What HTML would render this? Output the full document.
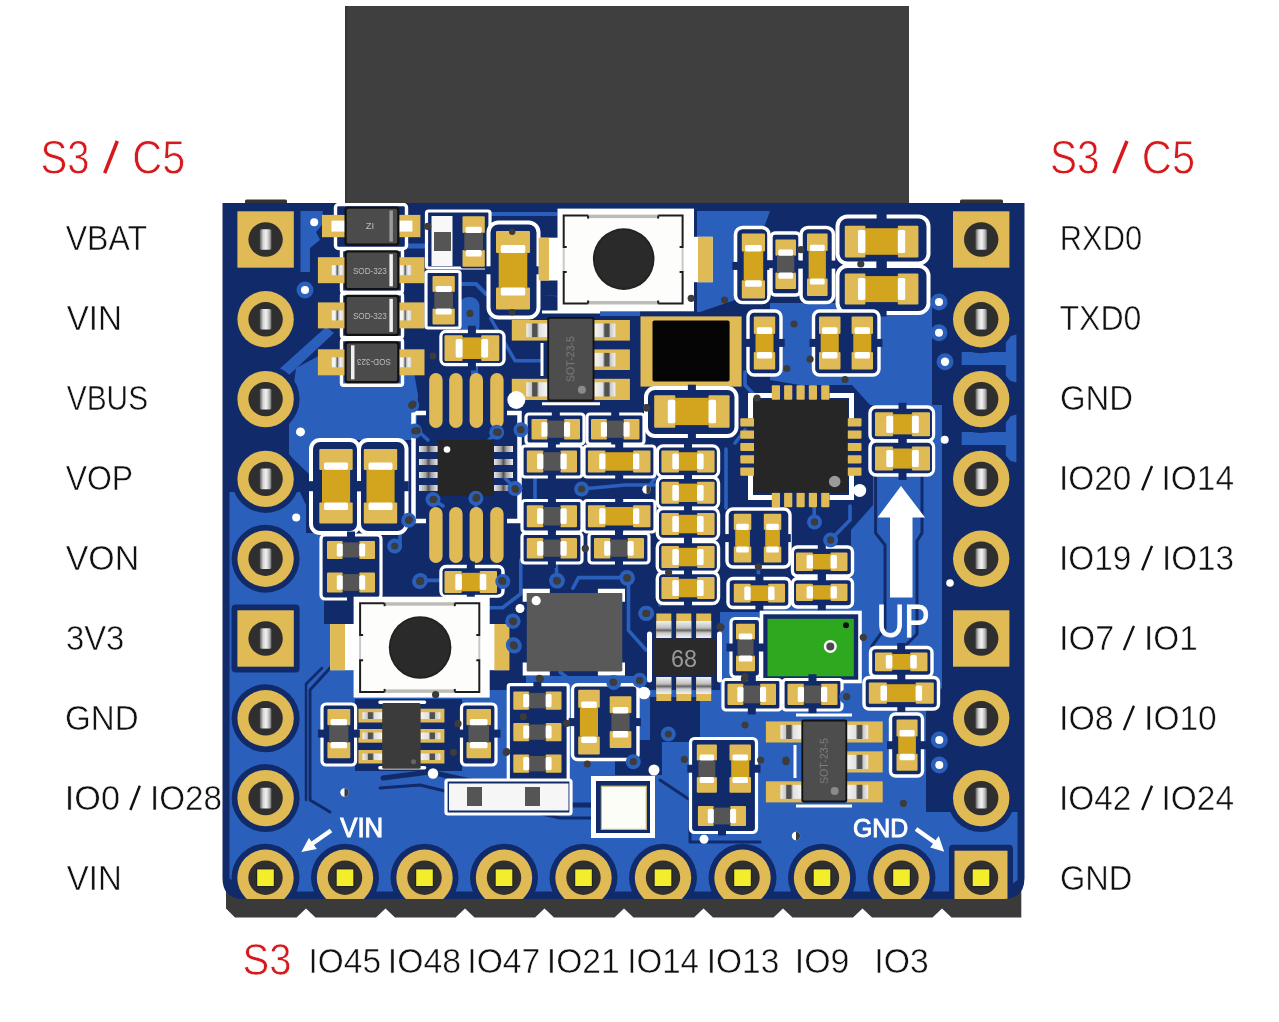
<!DOCTYPE html>
<html><head><meta charset="utf-8"><style>
html,body{margin:0;padding:0;background:#fff;}
svg{display:block;}
text{font-family:"Liberation Sans",sans-serif;}
.tx{opacity:0.999;}
text{opacity:0.999;}
</style></head><body>
<svg width="1279" height="1022" viewBox="0 0 1279 1022">
<defs>
<clipPath id="pcbclip"><path d="M222.5,203 L1024.5,203 L1024.5,878 Q1024.5,899 1003.5,899 L243.5,899 Q222.5,899 222.5,878 Z"/></clipPath>
<linearGradient id="slot" x1="0" x2="1" y1="0" y2="0">
<stop offset="0" stop-color="#5a5a5a"/><stop offset="0.3" stop-color="#d8d8d8"/><stop offset="0.55" stop-color="#f2f2f2"/><stop offset="0.8" stop-color="#bdbdbd"/><stop offset="1" stop-color="#6a6a6a"/>
</linearGradient>
<linearGradient id="sil" x1="0" x2="1" y1="0" y2="0"><stop offset="0" stop-color="#e8e8e8"/><stop offset="0.35" stop-color="#a0a0a0"/><stop offset="0.5" stop-color="#555"/><stop offset="0.65" stop-color="#a0a0a0"/><stop offset="1" stop-color="#f0f0f0"/></linearGradient>
<linearGradient id="sil2" x1="0" x2="1" y1="0" y2="0"><stop offset="0" stop-color="#f0f0f0"/><stop offset="0.25" stop-color="#c8c8c8"/><stop offset="0.3" stop-color="#505050"/><stop offset="0.5" stop-color="#505050"/><stop offset="0.6" stop-color="#e0e0e0"/><stop offset="1" stop-color="#f4f4f4"/></linearGradient>
<linearGradient id="sil2r" x1="1" x2="0" y1="0" y2="0"><stop offset="0" stop-color="#f0f0f0"/><stop offset="0.25" stop-color="#c8c8c8"/><stop offset="0.3" stop-color="#505050"/><stop offset="0.5" stop-color="#505050"/><stop offset="0.6" stop-color="#e0e0e0"/><stop offset="1" stop-color="#f4f4f4"/></linearGradient>
<linearGradient id="sil3" x1="0" x2="1" y1="0" y2="0"><stop offset="0" stop-color="#f4f4f4"/><stop offset="0.3" stop-color="#f4f4f4"/><stop offset="0.4" stop-color="#9a9a9a"/><stop offset="0.5" stop-color="#666"/><stop offset="0.6" stop-color="#c8c8c8"/><stop offset="0.75" stop-color="#f0f0f0"/><stop offset="1" stop-color="#d8d8d8"/></linearGradient>
<linearGradient id="silv" x1="0" x2="0" y1="0" y2="1"><stop offset="0" stop-color="#f2f2f2"/><stop offset="0.4" stop-color="#c0c0c0"/><stop offset="0.55" stop-color="#666"/><stop offset="0.7" stop-color="#c8c8c8"/><stop offset="1" stop-color="#f2f2f2"/></linearGradient>
</defs>
<rect width="1279" height="1022" fill="#fff"/>
<rect x="345.0" y="6.0" width="564.0" height="198.0" rx="0" fill="#3f3f3f" />
<rect x="345.0" y="6.0" width="2.0" height="198.0" rx="0" fill="#363636" />
<rect x="245.0" y="199.5" width="42.0" height="5.5" rx="1.5" fill="#333" />
<rect x="960.0" y="199.5" width="43.0" height="5.5" rx="1.5" fill="#333" />
<path d="M226,880 L1021.3,880 L1021.3,917.5 L951.5,917.5 L942,908.5 L932.5,917.5 L872.0,917.5 L862.5,908.5 L853.0,917.5 L792.5,917.5 L783,908.5 L773.5,917.5 L713.0,917.5 L703.5,908.5 L694.0,917.5 L633.5,917.5 L624,908.5 L614.5,917.5 L554.0,917.5 L544.5,908.5 L535.0,917.5 L474.5,917.5 L465,908.5 L455.5,917.5 L395.0,917.5 L385.5,908.5 L376.0,917.5 L315.5,917.5 L306,908.5 L296.5,917.5 L235,917.5 L226,908.5 Z" fill="#3a3a3a" stroke="none" stroke-width="0" />
<path d="M222.5,203 L1024.5,203 L1024.5,878 Q1024.5,899 1003.5,899 L243.5,899 Q222.5,899 222.5,878 Z" fill="#112a6a" stroke="none" stroke-width="0" />
<g clip-path="url(#pcbclip)" style="opacity:0.999">
<path d="M229.5,492.0 L300.0,492.0 L306.0,505.0 L306.0,533.0 L322.0,533.0 L322.0,596.0 L356.0,596.0 L356.0,690.0 L500.0,690.0 L500.0,676.0 L640.0,676.0 L640.0,690.0 L720.0,690.0 L720.0,612.0 L760.0,612.0 L760.0,600.0 L851.0,600.0 L851.0,530.0 L873.0,505.0 L873.0,405.0 L942.0,405.0 L942.0,688.0 L926.0,700.0 L926.0,812.0 L1017.5,812.0 L1017.5,880.0 L1003.0,891.5 L243.0,891.5 L229.5,878.0 Z" fill="#2a60bc" />
<path d="M289.0,420.0 L296.0,368.0 L330.0,350.0 L410.0,350.0 L418.0,395.0 L416.0,440.0 L313.0,440.0 L313.0,470.0 L309.0,474.0 L289.0,455.0 Z" fill="#2a60bc" />
<path d="M266.0,381.0 L326.0,327.0 L334.0,333.0 L274.0,389.0 Z" fill="#2a60bc" />
<path d="M300.5,211.0 L322.7,211.0 L322.7,224.0 L316.0,232.0 L320.0,240.0 L310.0,248.0 L310.0,272.0 L300.5,272.0 Z" fill="#2a60bc" />
<path d="M697.0,211.0 L770.0,211.0 L762.0,233.0 L735.0,233.0 L735.0,300.0 L700.0,312.0 L697.0,312.0 Z" fill="#2a60bc" />
<path d="M770.0,303.0 L932.0,303.0 L932.0,410.0 L870.0,405.0 L852.0,385.0 L800.0,385.0 L770.0,380.0 Z" fill="#2a60bc" />
<path d="M961.7,352.1 L1005.8,352.1 L1005.8,337.6 L1016.4,334.6 L1016.4,382.6 L1005.8,379.6 L1005.8,365.1 L961.7,365.1 Z" fill="#2a60bc" />
<path d="M961.7,432.0 L1005.8,432.0 L1005.8,417.5 L1016.4,414.5 L1016.4,462.5 L1005.8,459.5 L1005.8,445.0 L961.7,445.0 Z" fill="#2a60bc" />
<rect x="459" y="297" width="20.5" height="38" rx="9" fill="#2a60bc"/>
<path d="M490.7,318.5 L515.0,360.7 L541.0,360.7" fill="none" stroke="#2a60bc" stroke-width="3.5" stroke-linejoin="round" stroke-linecap="round"/>
<path d="M474.5,360.0 L474.5,378.0" fill="none" stroke="#2a60bc" stroke-width="7" stroke-linejoin="round" stroke-linecap="round"/>
<path d="M492.0,214.0 L556.0,214.0" fill="none" stroke="#2a60bc" stroke-width="4" stroke-linejoin="round" stroke-linecap="round"/>
<path d="M407.0,246.0 L426.0,246.0" fill="none" stroke="#2a60bc" stroke-width="5" stroke-linejoin="round" stroke-linecap="round"/>
<path d="M462.0,284.0 L476.0,284.0 L486.0,294.0" fill="none" stroke="#2a60bc" stroke-width="4" stroke-linejoin="round" stroke-linecap="round"/>
<path d="M540.0,295.0 L640.0,300.0 L640.0,316.0 L600.0,316.0 L600.0,300.0 Z" fill="#2a60bc" />
<path d="M650.0,697.0 L700.0,697.0 L700.0,742.0 L650.0,742.0 Z" fill="#112a6a" />
<path d="M615.0,740.0 L662.0,740.0 L662.0,775.0 L615.0,775.0 Z" fill="#112a6a" />
<path d="M487.0,596.0 L526.0,596.0 L526.0,690.0 L487.0,690.0 Z" fill="#112a6a" />
<path d="M324.0,598.0 L354.0,598.0 L354.0,624.0 L324.0,624.0 Z" fill="#112a6a" />
<path d="M355.0,699.0 L462.0,699.0 L462.0,771.0 L355.0,771.0 Z" fill="#112a6a" />
<path d="M343.0,668.0 L330.0,668.0 L310.0,690.0 L310.0,800.0 L330.0,812.0" fill="none" stroke="#112a6a" stroke-width="3" stroke-linejoin="round" stroke-linecap="round"/>
<path d="M322.0,668.0 L306.0,684.0 L306.0,800.0" fill="none" stroke="#112a6a" stroke-width="2.5" stroke-linejoin="round" stroke-linecap="round"/>
<path d="M383.0,778.0 L430.0,772.0 L520.0,792.0 L560.0,805.0 L600.0,805.0" fill="none" stroke="#112a6a" stroke-width="5" stroke-linejoin="round" stroke-linecap="round"/>
<path d="M380.0,788.0 L420.0,785.0 L515.0,808.0 L560.0,818.0 L592.0,818.0" fill="none" stroke="#112a6a" stroke-width="3" stroke-linejoin="round" stroke-linecap="round"/>
<path d="M660.0,780.0 L690.0,800.0 L690.0,842.0 L760.0,842.0" fill="none" stroke="#112a6a" stroke-width="3" stroke-linejoin="round" stroke-linecap="round"/>
<path d="M875.6,476.0 L875.6,533.0 L885.0,545.0 L885.0,628.0 L872.0,646.0" fill="none" stroke="#112a6a" stroke-width="3" stroke-linejoin="round" stroke-linecap="round"/>
<path d="M922.0,476.0 L922.0,533.0 L917.0,541.0 L917.0,634.0 L905.0,646.0" fill="none" stroke="#112a6a" stroke-width="3" stroke-linejoin="round" stroke-linecap="round"/>
<path d="M520.8,560.0 L520.8,593.8 L502.5,607.8 L488.0,607.8" fill="none" stroke="#2a60bc" stroke-width="3.6" stroke-linejoin="round" stroke-linecap="round"/>
<path d="M556.0,560.0 L557.1,581.1" fill="none" stroke="#2a60bc" stroke-width="3.6" stroke-linejoin="round" stroke-linecap="round"/>
<path d="M627.0,577.6 L578.5,577.6 L572.9,588.1" fill="none" stroke="#2a60bc" stroke-width="3.6" stroke-linejoin="round" stroke-linecap="round"/>
<path d="M628.5,577.6 L628.5,630.4 L646.0,650.0" fill="none" stroke="#2a60bc" stroke-width="3.6" stroke-linejoin="round" stroke-linecap="round"/>
<path d="M513.1,621.2 L500.0,630.0 L490.0,640.0" fill="none" stroke="#2a60bc" stroke-width="3.6" stroke-linejoin="round" stroke-linecap="round"/>
<path d="M560.0,672.0 L575.0,684.0 L612.0,684.0" fill="none" stroke="#2a60bc" stroke-width="3.6" stroke-linejoin="round" stroke-linecap="round"/>
<path d="M540.0,472.0 L535.0,478.0 L535.0,510.0" fill="none" stroke="#2a60bc" stroke-width="3.6" stroke-linejoin="round" stroke-linecap="round"/>
<path d="M581.6,489.0 L625.0,485.0 L654.0,485.0" fill="none" stroke="#2a60bc" stroke-width="3.6" stroke-linejoin="round" stroke-linecap="round"/>
<path d="M420.4,580.4 L500.0,580.4" fill="none" stroke="#2a60bc" stroke-width="3.6" stroke-linejoin="round" stroke-linecap="round"/>
<path d="M726.0,449.0 L726.0,508.0" fill="none" stroke="#2a60bc" stroke-width="3.6" stroke-linejoin="round" stroke-linecap="round"/>
<path d="M735.0,443.0 L745.0,430.0" fill="none" stroke="#2a60bc" stroke-width="3.6" stroke-linejoin="round" stroke-linecap="round"/>
<path d="M814.2,521.8 L814.2,506.0" fill="none" stroke="#2a60bc" stroke-width="3.6" stroke-linejoin="round" stroke-linecap="round"/>
<path d="M830.9,539.4 L850.0,520.0 L850.0,506.0" fill="none" stroke="#2a60bc" stroke-width="3.6" stroke-linejoin="round" stroke-linecap="round"/>
<path d="M412.0,405.0 L412.0,380.0" fill="none" stroke="#2a60bc" stroke-width="3.6" stroke-linejoin="round" stroke-linecap="round"/>
<path d="M417.0,430.0 L428.0,440.0" fill="none" stroke="#2a60bc" stroke-width="3.6" stroke-linejoin="round" stroke-linecap="round"/>
<path d="M497.0,432.0 L488.0,441.0" fill="none" stroke="#2a60bc" stroke-width="3.6" stroke-linejoin="round" stroke-linecap="round"/>
<path d="M521.0,430.0 L530.0,420.0 L540.0,420.0" fill="none" stroke="#2a60bc" stroke-width="3.6" stroke-linejoin="round" stroke-linecap="round"/>
<path d="M433.0,499.5 L443.0,506.0" fill="none" stroke="#2a60bc" stroke-width="3.6" stroke-linejoin="round" stroke-linecap="round"/>
<path d="M476.0,498.0 L476.0,507.0" fill="none" stroke="#2a60bc" stroke-width="3.6" stroke-linejoin="round" stroke-linecap="round"/>
<path d="M515.0,488.5 L505.0,478.0" fill="none" stroke="#2a60bc" stroke-width="3.6" stroke-linejoin="round" stroke-linecap="round"/>
<path d="M408.6,520.3 L400.0,530.0 L400.0,545.0" fill="none" stroke="#2a60bc" stroke-width="3.6" stroke-linejoin="round" stroke-linecap="round"/>
<path d="M646.9,489.5 L655.0,478.0" fill="none" stroke="#2a60bc" stroke-width="3.6" stroke-linejoin="round" stroke-linecap="round"/>
<path d="M757.0,398.0 L745.0,385.0 L745.0,372.0" fill="none" stroke="#2a60bc" stroke-width="3.6" stroke-linejoin="round" stroke-linecap="round"/>
<path d="M668.6,572.5 L660.0,590.0 L660.0,605.0" fill="none" stroke="#2a60bc" stroke-width="3.6" stroke-linejoin="round" stroke-linecap="round"/>
<path d="M758.4,566.8 L758.4,580.0" fill="none" stroke="#2a60bc" stroke-width="3.6" stroke-linejoin="round" stroke-linecap="round"/>
<rect x="231.6" y="205.5" width="68.0" height="68.0" rx="4" fill="#112a6a" />
<circle cx="265.6" cy="319.3" r="34.0" fill="#112a6a" />
<circle cx="265.6" cy="399.1" r="34.0" fill="#112a6a" />
<circle cx="265.6" cy="478.9" r="34.0" fill="#112a6a" />
<circle cx="265.6" cy="558.7" r="34.0" fill="#112a6a" />
<rect x="231.6" y="604.5" width="68.0" height="68.0" rx="4" fill="#112a6a" />
<circle cx="265.6" cy="718.3" r="34.0" fill="#112a6a" />
<circle cx="265.6" cy="798.1" r="34.0" fill="#112a6a" />
<rect x="947.2" y="205.5" width="68.0" height="68.0" rx="4" fill="#112a6a" />
<circle cx="981.2" cy="319.3" r="34.0" fill="#112a6a" />
<circle cx="981.2" cy="399.1" r="34.0" fill="#112a6a" />
<circle cx="981.2" cy="478.9" r="34.0" fill="#112a6a" />
<circle cx="981.2" cy="558.7" r="34.0" fill="#112a6a" />
<rect x="947.2" y="604.5" width="68.0" height="68.0" rx="4" fill="#112a6a" />
<circle cx="981.2" cy="718.3" r="34.0" fill="#112a6a" />
<circle cx="981.2" cy="798.1" r="34.0" fill="#112a6a" />
<circle cx="265.5" cy="877.7" r="34.0" fill="#112a6a" />
<circle cx="345.0" cy="877.7" r="34.0" fill="#112a6a" />
<circle cx="424.5" cy="877.7" r="34.0" fill="#112a6a" />
<circle cx="504.0" cy="877.7" r="34.0" fill="#112a6a" />
<circle cx="583.5" cy="877.7" r="34.0" fill="#112a6a" />
<circle cx="663.0" cy="877.7" r="34.0" fill="#112a6a" />
<circle cx="742.5" cy="877.7" r="34.0" fill="#112a6a" />
<circle cx="822.0" cy="877.7" r="34.0" fill="#112a6a" />
<circle cx="901.5" cy="877.7" r="34.0" fill="#112a6a" />
<rect x="949.0" y="844.7" width="64.0" height="54.3" rx="4" fill="#112a6a" />
<rect x="335.5" y="204.5" width="71.0" height="44.0" rx="3" fill="none" stroke="#ffffff" stroke-width="3.4" />
<rect x="341.5" y="249.5" width="61.0" height="42.8" rx="2" fill="none" stroke="#ffffff" stroke-width="3.4" />
<rect x="341.5" y="293.8" width="61.0" height="43.7" rx="2" fill="none" stroke="#ffffff" stroke-width="3.4" />
<rect x="341.5" y="339.5" width="61.0" height="45.8" rx="2" fill="none" stroke="#ffffff" stroke-width="3.4" />
<rect x="322.0" y="214.9" width="29.5" height="22.3" rx="0" fill="#e0ba54" />
<rect x="392.4" y="214.9" width="28.0" height="22.3" rx="0" fill="#e0ba54" />
<rect x="331.5" y="220.6" width="14.0" height="11.0" rx="0" fill="#ffffff" />
<rect x="398.4" y="220.6" width="14.0" height="11.0" rx="0" fill="#ffffff" />
<rect x="344.5" y="206.5" width="54.9" height="39.2" rx="3" fill="#111" />
<rect x="346.7" y="208.7" width="50.5" height="34.8" rx="1.5" fill="#4b4b4b" />
<rect x="389.4" y="210.5" width="3.5" height="31.2" rx="0" fill="#9a9a9a" />
<rect x="317.9" y="257.2" width="33.6" height="26.0" rx="0" fill="#e0ba54" />
<rect x="392.4" y="257.2" width="32.1" height="26.0" rx="0" fill="#e0ba54" />
<rect x="331.8" y="265.2" width="11.5" height="10" fill="url(#sil3)"/>
<rect x="399.7" y="265.2" width="11.5" height="10" fill="url(#sil3)"/>
<rect x="344.5" y="250.2" width="54.9" height="40.1" rx="3" fill="#111" />
<rect x="346.7" y="252.4" width="50.5" height="35.7" rx="1.5" fill="#4b4b4b" />
<rect x="389.4" y="254.2" width="3.5" height="32.1" rx="0" fill="#f0f0f0" />
<rect x="317.9" y="302.4" width="33.6" height="26.0" rx="0" fill="#e0ba54" />
<rect x="392.4" y="302.4" width="32.1" height="26.0" rx="0" fill="#e0ba54" />
<rect x="331.8" y="310.4" width="11.5" height="10" fill="url(#sil3)"/>
<rect x="399.7" y="310.4" width="11.5" height="10" fill="url(#sil3)"/>
<rect x="344.5" y="294.8" width="54.9" height="41.1" rx="3" fill="#111" />
<rect x="346.7" y="297.0" width="50.5" height="36.7" rx="1.5" fill="#4b4b4b" />
<rect x="389.4" y="298.8" width="3.5" height="33.1" rx="0" fill="#f0f0f0" />
<rect x="317.9" y="349.3" width="33.6" height="26.0" rx="0" fill="#e0ba54" />
<rect x="392.4" y="349.3" width="32.1" height="26.0" rx="0" fill="#e0ba54" />
<rect x="331.8" y="357.3" width="11.5" height="10" fill="url(#sil3)"/>
<rect x="399.7" y="357.3" width="11.5" height="10" fill="url(#sil3)"/>
<rect x="344.5" y="341.3" width="54.9" height="42.0" rx="3" fill="#111" />
<rect x="346.7" y="343.5" width="50.5" height="37.6" rx="1.5" fill="#4b4b4b" />
<rect x="351.0" y="345.3" width="3.5" height="34.0" rx="0" fill="#f0f0f0" />
<rect x="426.5" y="211.0" width="63.5" height="57.0" rx="2" fill="#112a6a" stroke="#ffffff" stroke-width="3.2" />
<rect x="431.5" y="216.0" width="21.0" height="50.0" rx="0" fill="#f8f8f8" />
<rect x="434.0" y="232.0" width="17.0" height="19.0" rx="0" fill="#555" />
<rect x="460.7" y="214.5" width="25.9" height="54.1" rx="2" fill="#112a6a" />
<rect x="462.5" y="216.3" width="22.3" height="16.7" rx="1" fill="#e0ba54" />
<rect x="462.5" y="250.1" width="22.3" height="16.7" rx="1" fill="#e0ba54" />
<rect x="464.3" y="232.5" width="18.7" height="18.2" rx="0" fill="#555555" />
<rect x="465.6" y="226.7" width="16.1" height="6.3" rx="1.5" fill="#ffffff" />
<rect x="465.6" y="250.1" width="16.1" height="6.3" rx="1.5" fill="#ffffff" />
<rect x="426.0" y="271.5" width="34.0" height="56.5" rx="2" fill="#112a6a" stroke="#ffffff" stroke-width="3.2" />
<rect x="430.7" y="274.2" width="25.9" height="52.1" rx="2" fill="#112a6a" />
<rect x="432.5" y="276.0" width="22.3" height="16.0" rx="1" fill="#e0ba54" />
<rect x="432.5" y="308.5" width="22.3" height="16.0" rx="1" fill="#e0ba54" />
<rect x="434.3" y="291.5" width="18.7" height="17.5" rx="0" fill="#555555" />
<rect x="435.6" y="285.9" width="16.1" height="6.1" rx="1.5" fill="#ffffff" />
<rect x="435.6" y="308.5" width="16.1" height="6.1" rx="1.5" fill="#ffffff" />
<rect x="488.5" y="222.5" width="50.0" height="95.0" rx="10" fill="#112a6a" stroke="#ffffff" stroke-width="4" />
<rect x="485.0" y="266.3" width="56.0" height="8.0" rx="0" fill="#112a6a" />
<rect x="494.2" y="229.2" width="37.6" height="82.2" rx="2" fill="#112a6a" />
<rect x="496.0" y="231.0" width="34.0" height="22.0" rx="1" fill="#e0ba54" />
<rect x="496.0" y="287.6" width="34.0" height="22.0" rx="1" fill="#e0ba54" />
<rect x="498.7" y="252.5" width="28.6" height="35.6" rx="0" fill="#d3a41e" />
<rect x="500.8" y="245.1" width="24.5" height="7.9" rx="1.5" fill="#ffffff" />
<rect x="500.8" y="287.6" width="24.5" height="7.9" rx="1.5" fill="#ffffff" />
<circle cx="512.2" cy="231.7" r="3.2" fill="#3a3a3a" />
<circle cx="512.2" cy="312.2" r="3.2" fill="#3a3a3a" />
<rect x="441.0" y="331.5" width="63.0" height="33.0" rx="5" fill="#112a6a" stroke="#ffffff" stroke-width="3.4" />
<rect x="467.9" y="325.8" width="8.0" height="44.7" rx="0" fill="#112a6a" />
<rect x="442.7" y="333.5" width="58.4" height="29.3" rx="2" fill="#112a6a" />
<rect x="444.5" y="335.3" width="18.1" height="25.7" rx="1" fill="#e0ba54" />
<rect x="481.2" y="335.3" width="18.1" height="25.7" rx="1" fill="#e0ba54" />
<rect x="462.1" y="337.4" width="19.6" height="21.6" rx="0" fill="#d3a41e" />
<rect x="455.7" y="338.9" width="6.9" height="18.5" rx="1.5" fill="#ffffff" />
<rect x="481.2" y="338.9" width="6.9" height="18.5" rx="1.5" fill="#ffffff" />
<rect x="557.5" y="208.6" width="136.5" height="102.7" rx="0" fill="#ffffff" />
<rect x="538.7" y="237.7" width="24.0" height="42.8" rx="0" fill="#ffffff" />
<rect x="538.7" y="237.7" width="10.3" height="42.8" rx="0" fill="#e0ba54" />
<rect x="683.6" y="236.8" width="29.1" height="45.4" rx="0" fill="#ffffff" />
<rect x="698.0" y="236.8" width="14.7" height="45.4" rx="0" fill="#e0ba54" />
<rect x="562.7" y="214.6" width="120.9" height="89.9" rx="0" fill="#fdfdfc" />
<rect x="588.1" y="214.6" width="70.1" height="3.5" rx="0" fill="#bdbdb8" />
<rect x="588.1" y="301.0" width="70.1" height="3.5" rx="0" fill="#bdbdb8" />
<rect x="562.7" y="247.0" width="2.0" height="25.2" rx="0" fill="#c8c8c8" />
<rect x="681.6" y="247.0" width="2.0" height="25.2" rx="0" fill="#c8c8c8" />
<path d="M588.1,215.6 L563.7,215.6 L563.7,247.0 L566.7,247.0" fill="none" stroke="#1e1e1e" stroke-width="2" />
<path d="M588.1,215.6 L588.1,218.6" fill="none" stroke="#1e1e1e" stroke-width="2" />
<path d="M658.2,215.6 L682.6,215.6 L682.6,247.0 L679.6,247.0" fill="none" stroke="#1e1e1e" stroke-width="2" />
<path d="M658.2,215.6 L658.2,218.6" fill="none" stroke="#1e1e1e" stroke-width="2" />
<path d="M588.1,303.5 L563.7,303.5 L563.7,272.1 L566.7,272.1" fill="none" stroke="#1e1e1e" stroke-width="2" />
<path d="M588.1,303.5 L588.1,300.5" fill="none" stroke="#1e1e1e" stroke-width="2" />
<path d="M658.2,303.5 L682.6,303.5 L682.6,272.1 L679.6,272.1" fill="none" stroke="#1e1e1e" stroke-width="2" />
<path d="M658.2,303.5 L658.2,300.5" fill="none" stroke="#1e1e1e" stroke-width="2" />
<circle cx="623.7" cy="259.1" r="30.8" fill="#222" />
<circle cx="623.7" cy="259.1" r="29.0" fill="#2a2a2a" />
<path d="M542,343 L542,376 M542,311.9 L600,311.9 M542,403.8 L600,403.8" fill="none" stroke="#ffffff" stroke-width="3" />
<rect x="511.8" y="320.0" width="37.5" height="20.6" rx="0" fill="#e0ba54" />
<rect x="526.3" y="323.5" width="21.0" height="13.6" fill="url(#sil2)"/>
<rect x="511.8" y="378.8" width="37.5" height="21.2" rx="0" fill="#e0ba54" />
<rect x="526.3" y="382.3" width="21.0" height="14.2" fill="url(#sil2)"/>
<rect x="592.4" y="320.0" width="37.5" height="20.6" rx="0" fill="#e0ba54" />
<rect x="594.4" y="323.5" width="21.0" height="13.6" fill="url(#sil2r)"/>
<rect x="592.4" y="349.4" width="37.5" height="20.6" rx="0" fill="#e0ba54" />
<rect x="594.4" y="352.9" width="21.0" height="13.6" fill="url(#sil2r)"/>
<rect x="592.4" y="378.8" width="37.5" height="21.2" rx="0" fill="#e0ba54" />
<rect x="594.4" y="382.3" width="21.0" height="14.2" fill="url(#sil2r)"/>
<rect x="547.3" y="316.9" width="47.1" height="84.4" rx="2" fill="#111" />
<rect x="549.1" y="318.7" width="43.5" height="80.8" rx="1" fill="#4d4d4d" />
<circle cx="581.9" cy="389.8" r="4.0" fill="#8a8a8a" />
<rect x="640.5" y="316.4" width="101.1" height="70.2" rx="0" fill="#e0ba54" />
<rect x="652.5" y="320.5" width="77.1" height="61.0" rx="2" fill="#050505" />
<rect x="646.0" y="388.0" width="90.5" height="48.0" rx="9" fill="#112a6a" stroke="#ffffff" stroke-width="4" />
<rect x="687.9" y="384.7" width="8.0" height="53.5" rx="0" fill="#112a6a" />
<rect x="652.4" y="393.4" width="79.0" height="36.1" rx="2" fill="#112a6a" />
<rect x="654.2" y="395.2" width="21.1" height="32.5" rx="1" fill="#e0ba54" />
<rect x="708.5" y="395.2" width="21.1" height="32.5" rx="1" fill="#e0ba54" />
<rect x="674.8" y="397.8" width="34.2" height="27.3" rx="0" fill="#d3a41e" />
<rect x="667.8" y="399.8" width="7.5" height="23.4" rx="1.5" fill="#ffffff" />
<rect x="708.5" y="399.8" width="7.5" height="23.4" rx="1.5" fill="#ffffff" />
<rect x="735.5" y="227.5" width="33.5" height="75.0" rx="7" fill="#112a6a" stroke="#ffffff" stroke-width="3.6" />
<rect x="732.3" y="261.9" width="42.2" height="8.0" rx="0" fill="#112a6a" />
<rect x="740.0" y="231.6" width="26.8" height="68.7" rx="2" fill="#112a6a" />
<rect x="741.8" y="233.4" width="23.2" height="18.2" rx="1" fill="#e0ba54" />
<rect x="741.8" y="280.3" width="23.2" height="18.2" rx="1" fill="#e0ba54" />
<rect x="743.7" y="251.1" width="19.5" height="29.6" rx="0" fill="#d3a41e" />
<rect x="745.0" y="245.1" width="16.7" height="6.5" rx="1.5" fill="#ffffff" />
<rect x="745.0" y="280.3" width="16.7" height="6.5" rx="1.5" fill="#ffffff" />
<rect x="771.0" y="233.0" width="29.0" height="62.0" rx="4" fill="#112a6a" stroke="#ffffff" stroke-width="3.4" />
<rect x="765.9" y="260.2" width="39.6" height="8.0" rx="0" fill="#112a6a" />
<rect x="773.6" y="237.6" width="24.2" height="53.2" rx="2" fill="#112a6a" />
<rect x="775.4" y="239.4" width="20.6" height="16.4" rx="1" fill="#e0ba54" />
<rect x="775.4" y="272.6" width="20.6" height="16.4" rx="1" fill="#e0ba54" />
<rect x="777.0" y="255.3" width="17.3" height="17.9" rx="0" fill="#555555" />
<rect x="778.3" y="249.6" width="14.8" height="6.2" rx="1.5" fill="#ffffff" />
<rect x="778.3" y="272.6" width="14.8" height="6.2" rx="1.5" fill="#ffffff" />
<rect x="801.0" y="227.5" width="32.5" height="75.0" rx="7" fill="#112a6a" stroke="#ffffff" stroke-width="3.6" />
<rect x="797.5" y="260.6" width="39.6" height="8.0" rx="0" fill="#112a6a" />
<rect x="805.2" y="231.6" width="24.2" height="66.1" rx="2" fill="#112a6a" />
<rect x="807.0" y="233.4" width="20.6" height="17.5" rx="1" fill="#e0ba54" />
<rect x="807.0" y="278.4" width="20.6" height="17.5" rx="1" fill="#e0ba54" />
<rect x="808.6" y="250.4" width="17.3" height="28.5" rx="0" fill="#d3a41e" />
<rect x="809.9" y="244.7" width="14.8" height="6.2" rx="1.5" fill="#ffffff" />
<rect x="809.9" y="278.4" width="14.8" height="6.2" rx="1.5" fill="#ffffff" />
<rect x="837.5" y="216.5" width="91.0" height="47.0" rx="10" fill="#112a6a" stroke="#ffffff" stroke-width="4" />
<rect x="837.5" y="266.0" width="91.0" height="47.0" rx="10" fill="#112a6a" stroke="#ffffff" stroke-width="4" />
<rect x="876.6" y="213.7" width="10.0" height="55.7" rx="0" fill="#112a6a" />
<rect x="843.0" y="223.9" width="77.2" height="35.3" rx="2" fill="#112a6a" />
<rect x="844.8" y="225.7" width="20.6" height="31.7" rx="1" fill="#e0ba54" />
<rect x="897.8" y="225.7" width="20.6" height="31.7" rx="1" fill="#e0ba54" />
<rect x="864.9" y="228.2" width="33.4" height="26.6" rx="0" fill="#d3a41e" />
<rect x="858.0" y="230.1" width="7.4" height="22.8" rx="1.5" fill="#ffffff" />
<rect x="897.8" y="230.1" width="7.4" height="22.8" rx="1.5" fill="#ffffff" />
<rect x="876.6" y="261.6" width="10.0" height="54.9" rx="0" fill="#112a6a" />
<rect x="843.0" y="271.8" width="77.2" height="34.5" rx="2" fill="#112a6a" />
<rect x="844.8" y="273.6" width="20.6" height="30.9" rx="1" fill="#e0ba54" />
<rect x="897.8" y="273.6" width="20.6" height="30.9" rx="1" fill="#e0ba54" />
<rect x="864.9" y="276.1" width="33.4" height="26.0" rx="0" fill="#d3a41e" />
<rect x="858.0" y="277.9" width="7.4" height="22.2" rx="1.5" fill="#ffffff" />
<rect x="897.8" y="277.9" width="7.4" height="22.2" rx="1.5" fill="#ffffff" />
<rect x="748.0" y="311.0" width="33.0" height="64.0" rx="6" fill="#112a6a" stroke="#ffffff" stroke-width="3.4" />
<rect x="744.3" y="338.9" width="40.4" height="8.0" rx="0" fill="#112a6a" />
<rect x="752.0" y="314.6" width="25.0" height="56.7" rx="2" fill="#112a6a" />
<rect x="753.8" y="316.4" width="21.4" height="17.5" rx="1" fill="#e0ba54" />
<rect x="753.8" y="352.0" width="21.4" height="17.5" rx="1" fill="#e0ba54" />
<rect x="755.5" y="333.4" width="18.0" height="19.1" rx="0" fill="#d3a41e" />
<rect x="756.8" y="327.3" width="15.4" height="6.6" rx="1.5" fill="#ffffff" />
<rect x="756.8" y="352.0" width="15.4" height="6.6" rx="1.5" fill="#ffffff" />
<rect x="813.5" y="311.0" width="65.5" height="64.0" rx="6" fill="#112a6a" stroke="#ffffff" stroke-width="3.4" />
<rect x="809.5" y="338.9" width="40.5" height="8.0" rx="0" fill="#112a6a" />
<rect x="817.2" y="314.6" width="25.1" height="56.7" rx="2" fill="#112a6a" />
<rect x="819.0" y="316.4" width="21.5" height="17.5" rx="1" fill="#e0ba54" />
<rect x="819.0" y="352.0" width="21.5" height="17.5" rx="1" fill="#e0ba54" />
<rect x="820.7" y="333.4" width="18.1" height="19.1" rx="0" fill="#d3a41e" />
<rect x="822.0" y="327.3" width="15.5" height="6.6" rx="1.5" fill="#ffffff" />
<rect x="822.0" y="352.0" width="15.5" height="6.6" rx="1.5" fill="#ffffff" />
<rect x="842.1" y="338.9" width="40.4" height="8.0" rx="0" fill="#112a6a" />
<rect x="849.8" y="314.6" width="25.0" height="56.7" rx="2" fill="#112a6a" />
<rect x="851.6" y="316.4" width="21.4" height="17.5" rx="1" fill="#e0ba54" />
<rect x="851.6" y="352.0" width="21.4" height="17.5" rx="1" fill="#e0ba54" />
<rect x="853.3" y="333.4" width="18.0" height="19.1" rx="0" fill="#d3a41e" />
<rect x="854.6" y="327.3" width="15.4" height="6.6" rx="1.5" fill="#ffffff" />
<rect x="854.6" y="352.0" width="15.4" height="6.6" rx="1.5" fill="#ffffff" />
<path d="M772.5,395.5 L750.5,395.5 L750.5,418.5" fill="none" stroke="#ffffff" stroke-width="5" />
<path d="M829.5,395.5 L851.5,395.5 L851.5,418.5" fill="none" stroke="#ffffff" stroke-width="5" />
<path d="M772.5,497.5 L750.5,497.5 L750.5,474.5" fill="none" stroke="#ffffff" stroke-width="5" />
<path d="M829.5,497.5 L851.5,497.5 L851.5,474.5" fill="none" stroke="#ffffff" stroke-width="5" />
<rect x="771.8" y="385.3" width="8.2" height="14.7" rx="1" fill="#e0ba54" />
<rect x="771.8" y="492.5" width="8.2" height="14.7" rx="1" fill="#e0ba54" />
<rect x="784.1" y="385.3" width="8.2" height="14.7" rx="1" fill="#e0ba54" />
<rect x="784.1" y="492.5" width="8.2" height="14.7" rx="1" fill="#e0ba54" />
<rect x="796.5" y="385.3" width="8.2" height="14.7" rx="1" fill="#e0ba54" />
<rect x="796.5" y="492.5" width="8.2" height="14.7" rx="1" fill="#e0ba54" />
<rect x="808.8" y="385.3" width="8.2" height="14.7" rx="1" fill="#e0ba54" />
<rect x="808.8" y="492.5" width="8.2" height="14.7" rx="1" fill="#e0ba54" />
<rect x="821.2" y="385.3" width="8.2" height="14.7" rx="1" fill="#e0ba54" />
<rect x="821.2" y="492.5" width="8.2" height="14.7" rx="1" fill="#e0ba54" />
<rect x="740.3" y="418.2" width="14.7" height="8.2" rx="1" fill="#e0ba54" />
<rect x="847.0" y="418.2" width="14.5" height="8.2" rx="1" fill="#e0ba54" />
<rect x="740.3" y="430.6" width="14.7" height="8.2" rx="1" fill="#e0ba54" />
<rect x="847.0" y="430.6" width="14.5" height="8.2" rx="1" fill="#e0ba54" />
<rect x="740.3" y="442.9" width="14.7" height="8.2" rx="1" fill="#e0ba54" />
<rect x="847.0" y="442.9" width="14.5" height="8.2" rx="1" fill="#e0ba54" />
<rect x="740.3" y="455.2" width="14.7" height="8.2" rx="1" fill="#e0ba54" />
<rect x="847.0" y="455.2" width="14.5" height="8.2" rx="1" fill="#e0ba54" />
<rect x="740.3" y="467.6" width="14.7" height="8.2" rx="1" fill="#e0ba54" />
<rect x="847.0" y="467.6" width="14.5" height="8.2" rx="1" fill="#e0ba54" />
<rect x="754.0" y="399.7" width="93.8" height="93.1" rx="1" fill="#262626" />
<circle cx="834.7" cy="481.5" r="5.8" fill="#9a9a9a" />
<circle cx="859.7" cy="490.4" r="6.5" fill="#ffffff" />
<rect x="870.0" y="407.0" width="63.5" height="34.0" rx="6" fill="#112a6a" stroke="#ffffff" stroke-width="3.4" />
<rect x="870.0" y="441.0" width="63.5" height="34.0" rx="6" fill="#112a6a" stroke="#ffffff" stroke-width="3.4" />
<rect x="898.5" y="402.8" width="8.0" height="43.0" rx="0" fill="#112a6a" />
<rect x="873.2" y="410.5" width="58.6" height="27.6" rx="2" fill="#112a6a" />
<rect x="875.0" y="412.3" width="18.1" height="24.0" rx="1" fill="#e0ba54" />
<rect x="911.9" y="412.3" width="18.1" height="24.0" rx="1" fill="#e0ba54" />
<rect x="892.6" y="414.2" width="19.7" height="20.2" rx="0" fill="#d3a41e" />
<rect x="886.3" y="415.7" width="6.9" height="17.3" rx="1.5" fill="#ffffff" />
<rect x="911.9" y="415.7" width="6.9" height="17.3" rx="1.5" fill="#ffffff" />
<rect x="898.5" y="437.1" width="8.0" height="42.9" rx="0" fill="#112a6a" />
<rect x="873.2" y="444.8" width="58.6" height="27.5" rx="2" fill="#112a6a" />
<rect x="875.0" y="446.6" width="18.1" height="23.9" rx="1" fill="#e0ba54" />
<rect x="911.9" y="446.6" width="18.1" height="23.9" rx="1" fill="#e0ba54" />
<rect x="892.6" y="448.5" width="19.7" height="20.1" rx="0" fill="#d3a41e" />
<rect x="886.3" y="449.9" width="6.9" height="17.2" rx="1.5" fill="#ffffff" />
<rect x="911.9" y="449.9" width="6.9" height="17.2" rx="1.5" fill="#ffffff" />
<rect x="311.0" y="440.0" width="48.0" height="93.0" rx="9" fill="#112a6a" stroke="#ffffff" stroke-width="4" />
<rect x="359.0" y="440.0" width="47.5" height="93.0" rx="9" fill="#112a6a" stroke="#ffffff" stroke-width="4" />
<rect x="307.8" y="481.2" width="56.4" height="10.0" rx="0" fill="#112a6a" />
<rect x="317.5" y="447.2" width="37.0" height="78.1" rx="2" fill="#112a6a" />
<rect x="319.3" y="449.0" width="33.4" height="20.9" rx="1" fill="#e0ba54" />
<rect x="319.3" y="502.6" width="33.4" height="20.9" rx="1" fill="#e0ba54" />
<rect x="322.0" y="469.4" width="28.1" height="33.8" rx="0" fill="#d3a41e" />
<rect x="324.0" y="462.4" width="24.0" height="7.4" rx="1.5" fill="#ffffff" />
<rect x="324.0" y="502.6" width="24.0" height="7.5" rx="1.5" fill="#ffffff" />
<rect x="352.3" y="481.2" width="56.4" height="10.0" rx="0" fill="#112a6a" />
<rect x="362.0" y="447.2" width="37.0" height="78.1" rx="2" fill="#112a6a" />
<rect x="363.8" y="449.0" width="33.4" height="20.9" rx="1" fill="#e0ba54" />
<rect x="363.8" y="502.6" width="33.4" height="20.9" rx="1" fill="#e0ba54" />
<rect x="366.5" y="469.4" width="28.1" height="33.8" rx="0" fill="#d3a41e" />
<rect x="368.5" y="462.4" width="24.0" height="7.4" rx="1.5" fill="#ffffff" />
<rect x="368.5" y="502.6" width="24.0" height="7.5" rx="1.5" fill="#ffffff" />
<path d="M426,413 L413.5,413 L413.5,521 L426,521" fill="none" stroke="#ffffff" stroke-width="4.5" />
<path d="M507,413 L519.5,413 L519.5,521 L507,521" fill="none" stroke="#ffffff" stroke-width="4.5" />
<rect x="429.2" y="373.0" width="13.4" height="55.0" rx="6.7" fill="#e0ba54" />
<rect x="429.2" y="507.0" width="13.4" height="56.0" rx="6.7" fill="#e0ba54" />
<rect x="449.2" y="373.0" width="13.4" height="55.0" rx="6.7" fill="#e0ba54" />
<rect x="449.2" y="507.0" width="13.4" height="56.0" rx="6.7" fill="#e0ba54" />
<rect x="469.6" y="373.0" width="13.4" height="55.0" rx="6.7" fill="#e0ba54" />
<rect x="469.6" y="507.0" width="13.4" height="56.0" rx="6.7" fill="#e0ba54" />
<rect x="490.2" y="373.0" width="13.4" height="55.0" rx="6.7" fill="#e0ba54" />
<rect x="490.2" y="507.0" width="13.4" height="56.0" rx="6.7" fill="#e0ba54" />
<rect x="419" y="446.0" width="19" height="6" fill="url(#sil)"/>
<rect x="494" y="446.0" width="19" height="6" fill="url(#sil)"/>
<rect x="419" y="459.0" width="19" height="6" fill="url(#sil)"/>
<rect x="494" y="459.0" width="19" height="6" fill="url(#sil)"/>
<rect x="419" y="472.0" width="19" height="6" fill="url(#sil)"/>
<rect x="494" y="472.0" width="19" height="6" fill="url(#sil)"/>
<rect x="419" y="485.0" width="19" height="6" fill="url(#sil)"/>
<rect x="494" y="485.0" width="19" height="6" fill="url(#sil)"/>
<rect x="437.6" y="439.5" width="56.4" height="56.3" rx="1" fill="#262626" />
<circle cx="447.0" cy="449.5" r="3.3" fill="#ffffff" />
<rect x="321.0" y="535.0" width="60.0" height="64.0" rx="4" fill="#112a6a" stroke="#ffffff" stroke-width="3.2" />
<rect x="347.0" y="531.5" width="8.0" height="37.0" rx="0" fill="#112a6a" />
<rect x="325.2" y="539.2" width="51.6" height="21.6" rx="2" fill="#112a6a" />
<rect x="327.0" y="541.0" width="15.8" height="18.0" rx="1" fill="#e0ba54" />
<rect x="359.2" y="541.0" width="15.8" height="18.0" rx="1" fill="#e0ba54" />
<rect x="342.3" y="542.4" width="17.3" height="15.1" rx="0" fill="#555555" />
<rect x="336.8" y="543.5" width="6.0" height="13.0" rx="1.5" fill="#ffffff" />
<rect x="359.2" y="543.5" width="6.0" height="13.0" rx="1.5" fill="#ffffff" />
<rect x="347.0" y="563.0" width="8.0" height="39.0" rx="0" fill="#112a6a" />
<rect x="325.2" y="570.7" width="51.6" height="23.6" rx="2" fill="#112a6a" />
<rect x="327.0" y="572.5" width="15.8" height="20.0" rx="1" fill="#e0ba54" />
<rect x="359.2" y="572.5" width="15.8" height="20.0" rx="1" fill="#e0ba54" />
<rect x="342.3" y="574.1" width="17.3" height="16.8" rx="0" fill="#555555" />
<rect x="336.8" y="575.3" width="6.0" height="14.4" rx="1.5" fill="#ffffff" />
<rect x="359.2" y="575.3" width="6.0" height="14.4" rx="1.5" fill="#ffffff" />
<rect x="441.0" y="566.5" width="62.0" height="29.5" rx="5" fill="#112a6a" stroke="#ffffff" stroke-width="3.4" />
<rect x="466.8" y="561.5" width="8.0" height="41.0" rx="0" fill="#112a6a" />
<rect x="442.7" y="569.2" width="56.1" height="25.6" rx="2" fill="#112a6a" />
<rect x="444.5" y="571.0" width="17.3" height="22.0" rx="1" fill="#e0ba54" />
<rect x="479.7" y="571.0" width="17.3" height="22.0" rx="1" fill="#e0ba54" />
<rect x="461.3" y="572.8" width="18.9" height="18.5" rx="0" fill="#d3a41e" />
<rect x="455.3" y="574.1" width="6.6" height="15.8" rx="1.5" fill="#ffffff" />
<rect x="479.7" y="574.1" width="6.6" height="15.8" rx="1.5" fill="#ffffff" />
<rect x="526.0" y="414.0" width="58.0" height="30.0" rx="3" fill="#112a6a" stroke="#ffffff" stroke-width="3.2" />
<rect x="551.8" y="409.5" width="8.0" height="39.5" rx="0" fill="#112a6a" />
<rect x="529.7" y="417.2" width="52.1" height="24.1" rx="2" fill="#112a6a" />
<rect x="531.5" y="419.0" width="16.0" height="20.5" rx="1" fill="#e0ba54" />
<rect x="564.0" y="419.0" width="16.0" height="20.5" rx="1" fill="#e0ba54" />
<rect x="547.0" y="420.6" width="17.5" height="17.2" rx="0" fill="#555555" />
<rect x="541.4" y="421.9" width="6.1" height="14.8" rx="1.5" fill="#ffffff" />
<rect x="564.0" y="421.9" width="6.1" height="14.8" rx="1.5" fill="#ffffff" />
<rect x="587.0" y="414.0" width="57.0" height="30.0" rx="3" fill="#112a6a" stroke="#ffffff" stroke-width="3.2" />
<rect x="611.2" y="409.5" width="8.0" height="39.5" rx="0" fill="#112a6a" />
<rect x="589.2" y="417.2" width="52.1" height="24.1" rx="2" fill="#112a6a" />
<rect x="591.0" y="419.0" width="16.0" height="20.5" rx="1" fill="#e0ba54" />
<rect x="623.5" y="419.0" width="16.0" height="20.5" rx="1" fill="#e0ba54" />
<rect x="606.5" y="420.6" width="17.5" height="17.2" rx="0" fill="#555555" />
<rect x="600.9" y="421.9" width="6.1" height="14.8" rx="1.5" fill="#ffffff" />
<rect x="623.5" y="421.9" width="6.1" height="14.8" rx="1.5" fill="#ffffff" />
<rect x="522.0" y="446.0" width="60.0" height="31.0" rx="3" fill="#112a6a" stroke="#ffffff" stroke-width="3.2" />
<rect x="547.9" y="440.9" width="8.0" height="41.0" rx="0" fill="#112a6a" />
<rect x="525.0" y="448.6" width="53.8" height="25.6" rx="2" fill="#112a6a" />
<rect x="526.8" y="450.4" width="16.6" height="22.0" rx="1" fill="#e0ba54" />
<rect x="560.4" y="450.4" width="16.6" height="22.0" rx="1" fill="#e0ba54" />
<rect x="542.9" y="452.2" width="18.1" height="18.5" rx="0" fill="#555555" />
<rect x="537.1" y="453.5" width="6.3" height="15.8" rx="1.5" fill="#ffffff" />
<rect x="560.4" y="453.5" width="6.3" height="15.8" rx="1.5" fill="#ffffff" />
<rect x="584.0" y="446.0" width="71.0" height="31.0" rx="3" fill="#112a6a" stroke="#ffffff" stroke-width="3.2" />
<rect x="615.2" y="440.9" width="8.0" height="41.0" rx="0" fill="#112a6a" />
<rect x="586.1" y="448.6" width="66.2" height="25.6" rx="2" fill="#112a6a" />
<rect x="587.9" y="450.4" width="17.5" height="22.0" rx="1" fill="#e0ba54" />
<rect x="633.0" y="450.4" width="17.5" height="22.0" rx="1" fill="#e0ba54" />
<rect x="604.9" y="452.2" width="28.5" height="18.5" rx="0" fill="#d3a41e" />
<rect x="599.2" y="453.5" width="6.3" height="15.8" rx="1.5" fill="#ffffff" />
<rect x="633.0" y="453.5" width="6.3" height="15.8" rx="1.5" fill="#ffffff" />
<rect x="522.0" y="500.5" width="60.0" height="31.5" rx="3" fill="#112a6a" stroke="#ffffff" stroke-width="3.2" />
<rect x="547.9" y="495.7" width="8.0" height="41.0" rx="0" fill="#112a6a" />
<rect x="525.0" y="503.4" width="53.8" height="25.6" rx="2" fill="#112a6a" />
<rect x="526.8" y="505.2" width="16.6" height="22.0" rx="1" fill="#e0ba54" />
<rect x="560.4" y="505.2" width="16.6" height="22.0" rx="1" fill="#e0ba54" />
<rect x="542.9" y="507.0" width="18.1" height="18.5" rx="0" fill="#555555" />
<rect x="537.1" y="508.3" width="6.3" height="15.8" rx="1.5" fill="#ffffff" />
<rect x="560.4" y="508.3" width="6.3" height="15.8" rx="1.5" fill="#ffffff" />
<rect x="584.0" y="500.5" width="71.0" height="31.5" rx="3" fill="#112a6a" stroke="#ffffff" stroke-width="3.2" />
<rect x="615.2" y="495.7" width="8.0" height="41.0" rx="0" fill="#112a6a" />
<rect x="586.1" y="503.4" width="66.2" height="25.6" rx="2" fill="#112a6a" />
<rect x="587.9" y="505.2" width="17.5" height="22.0" rx="1" fill="#e0ba54" />
<rect x="633.0" y="505.2" width="17.5" height="22.0" rx="1" fill="#e0ba54" />
<rect x="604.9" y="507.0" width="28.5" height="18.5" rx="0" fill="#d3a41e" />
<rect x="599.2" y="508.3" width="6.3" height="15.8" rx="1.5" fill="#ffffff" />
<rect x="633.0" y="508.3" width="6.3" height="15.8" rx="1.5" fill="#ffffff" />
<rect x="522.0" y="533.5" width="60.0" height="29.5" rx="3" fill="#112a6a" stroke="#ffffff" stroke-width="3.2" />
<rect x="547.9" y="528.5" width="8.0" height="39.5" rx="0" fill="#112a6a" />
<rect x="525.0" y="536.2" width="53.8" height="24.1" rx="2" fill="#112a6a" />
<rect x="526.8" y="538.0" width="16.6" height="20.5" rx="1" fill="#e0ba54" />
<rect x="560.4" y="538.0" width="16.6" height="20.5" rx="1" fill="#e0ba54" />
<rect x="542.9" y="539.6" width="18.1" height="17.2" rx="0" fill="#555555" />
<rect x="537.1" y="540.9" width="6.3" height="14.8" rx="1.5" fill="#ffffff" />
<rect x="560.4" y="540.9" width="6.3" height="14.8" rx="1.5" fill="#ffffff" />
<rect x="589.0" y="533.5" width="60.0" height="29.5" rx="3" fill="#112a6a" stroke="#ffffff" stroke-width="3.2" />
<rect x="615.0" y="528.5" width="8.0" height="39.5" rx="0" fill="#112a6a" />
<rect x="592.2" y="536.2" width="53.6" height="24.1" rx="2" fill="#112a6a" />
<rect x="594.0" y="538.0" width="16.5" height="20.5" rx="1" fill="#e0ba54" />
<rect x="627.5" y="538.0" width="16.5" height="20.5" rx="1" fill="#e0ba54" />
<rect x="610.0" y="539.6" width="18.0" height="17.2" rx="0" fill="#555555" />
<rect x="604.2" y="540.9" width="6.2" height="14.8" rx="1.5" fill="#ffffff" />
<rect x="627.5" y="540.9" width="6.2" height="14.8" rx="1.5" fill="#ffffff" />
<rect x="657.3" y="445.9" width="61.2" height="31.0" rx="6" fill="#112a6a" stroke="#ffffff" stroke-width="3.4" />
<rect x="684.0" y="443.4" width="8.0" height="36.0" rx="0" fill="#112a6a" />
<rect x="659.6" y="448.6" width="56.8" height="25.6" rx="2" fill="#112a6a" />
<rect x="661.4" y="450.4" width="17.6" height="22.0" rx="1" fill="#e0ba54" />
<rect x="697.0" y="450.4" width="17.6" height="22.0" rx="1" fill="#e0ba54" />
<rect x="678.5" y="452.2" width="19.1" height="18.5" rx="0" fill="#d3a41e" />
<rect x="672.3" y="453.5" width="6.6" height="15.8" rx="1.5" fill="#ffffff" />
<rect x="697.0" y="453.5" width="6.6" height="15.8" rx="1.5" fill="#ffffff" />
<rect x="657.3" y="477.3" width="61.2" height="30.9" rx="6" fill="#112a6a" stroke="#ffffff" stroke-width="3.4" />
<rect x="684.0" y="474.8" width="8.0" height="35.9" rx="0" fill="#112a6a" />
<rect x="659.6" y="480.0" width="56.8" height="25.5" rx="2" fill="#112a6a" />
<rect x="661.4" y="481.8" width="17.6" height="21.9" rx="1" fill="#e0ba54" />
<rect x="697.0" y="481.8" width="17.6" height="21.9" rx="1" fill="#e0ba54" />
<rect x="678.5" y="483.6" width="19.1" height="18.4" rx="0" fill="#d3a41e" />
<rect x="672.3" y="484.9" width="6.6" height="15.8" rx="1.5" fill="#ffffff" />
<rect x="697.0" y="484.9" width="6.6" height="15.8" rx="1.5" fill="#ffffff" />
<rect x="657.3" y="508.5" width="61.2" height="31.0" rx="6" fill="#112a6a" stroke="#ffffff" stroke-width="3.4" />
<rect x="684.0" y="506.0" width="8.0" height="36.0" rx="0" fill="#112a6a" />
<rect x="659.6" y="511.2" width="56.8" height="25.6" rx="2" fill="#112a6a" />
<rect x="661.4" y="513.0" width="17.6" height="22.0" rx="1" fill="#e0ba54" />
<rect x="697.0" y="513.0" width="17.6" height="22.0" rx="1" fill="#e0ba54" />
<rect x="678.5" y="514.8" width="19.1" height="18.5" rx="0" fill="#d3a41e" />
<rect x="672.3" y="516.1" width="6.6" height="15.8" rx="1.5" fill="#ffffff" />
<rect x="697.0" y="516.1" width="6.6" height="15.8" rx="1.5" fill="#ffffff" />
<rect x="657.3" y="541.5" width="61.2" height="31.0" rx="6" fill="#112a6a" stroke="#ffffff" stroke-width="3.4" />
<rect x="684.0" y="539.0" width="8.0" height="36.0" rx="0" fill="#112a6a" />
<rect x="659.6" y="544.2" width="56.8" height="25.6" rx="2" fill="#112a6a" />
<rect x="661.4" y="546.0" width="17.6" height="22.0" rx="1" fill="#e0ba54" />
<rect x="697.0" y="546.0" width="17.6" height="22.0" rx="1" fill="#e0ba54" />
<rect x="678.5" y="547.8" width="19.1" height="18.5" rx="0" fill="#d3a41e" />
<rect x="672.3" y="549.1" width="6.6" height="15.8" rx="1.5" fill="#ffffff" />
<rect x="697.0" y="549.1" width="6.6" height="15.8" rx="1.5" fill="#ffffff" />
<rect x="657.3" y="572.5" width="61.2" height="31.0" rx="6" fill="#112a6a" stroke="#ffffff" stroke-width="3.4" />
<rect x="684.0" y="570.0" width="8.0" height="36.0" rx="0" fill="#112a6a" />
<rect x="659.6" y="575.2" width="56.8" height="25.6" rx="2" fill="#112a6a" />
<rect x="661.4" y="577.0" width="17.6" height="22.0" rx="1" fill="#e0ba54" />
<rect x="697.0" y="577.0" width="17.6" height="22.0" rx="1" fill="#e0ba54" />
<rect x="678.5" y="578.8" width="19.1" height="18.5" rx="0" fill="#d3a41e" />
<rect x="672.3" y="580.1" width="6.6" height="15.8" rx="1.5" fill="#ffffff" />
<rect x="697.0" y="580.1" width="6.6" height="15.8" rx="1.5" fill="#ffffff" />
<rect x="727.0" y="509.0" width="63.0" height="58.0" rx="6" fill="#112a6a" stroke="#ffffff" stroke-width="3.4" />
<rect x="724.3" y="534.1" width="36.5" height="8.0" rx="0" fill="#112a6a" />
<rect x="732.0" y="512.0" width="21.1" height="52.3" rx="2" fill="#112a6a" />
<rect x="733.8" y="513.8" width="17.5" height="16.1" rx="1" fill="#e0ba54" />
<rect x="733.8" y="546.4" width="17.5" height="16.1" rx="1" fill="#e0ba54" />
<rect x="735.2" y="529.4" width="14.7" height="17.6" rx="0" fill="#d3a41e" />
<rect x="736.2" y="523.8" width="12.6" height="6.1" rx="1.5" fill="#ffffff" />
<rect x="736.2" y="546.4" width="12.6" height="6.1" rx="1.5" fill="#ffffff" />
<rect x="754.3" y="534.1" width="36.5" height="8.0" rx="0" fill="#112a6a" />
<rect x="762.0" y="512.0" width="21.1" height="52.3" rx="2" fill="#112a6a" />
<rect x="763.8" y="513.8" width="17.5" height="16.1" rx="1" fill="#e0ba54" />
<rect x="763.8" y="546.4" width="17.5" height="16.1" rx="1" fill="#e0ba54" />
<rect x="765.2" y="529.4" width="14.7" height="17.6" rx="0" fill="#d3a41e" />
<rect x="766.2" y="523.8" width="12.6" height="6.1" rx="1.5" fill="#ffffff" />
<rect x="766.2" y="546.4" width="12.6" height="6.1" rx="1.5" fill="#ffffff" />
<rect x="728.0" y="578.5" width="62.0" height="29.0" rx="5" fill="#112a6a" stroke="#ffffff" stroke-width="3.4" />
<rect x="755.4" y="574.3" width="8.0" height="37.7" rx="0" fill="#112a6a" />
<rect x="732.0" y="582.0" width="54.8" height="22.3" rx="2" fill="#112a6a" />
<rect x="733.8" y="583.8" width="16.9" height="18.7" rx="1" fill="#e0ba54" />
<rect x="768.1" y="583.8" width="16.9" height="18.7" rx="1" fill="#e0ba54" />
<rect x="750.2" y="585.3" width="18.4" height="15.7" rx="0" fill="#d3a41e" />
<rect x="744.3" y="586.4" width="6.4" height="13.5" rx="1.5" fill="#ffffff" />
<rect x="768.1" y="586.4" width="6.4" height="13.5" rx="1.5" fill="#ffffff" />
<rect x="792.5" y="547.0" width="60.0" height="29.0" rx="5" fill="#112a6a" stroke="#ffffff" stroke-width="3.4" />
<rect x="792.5" y="578.5" width="60.0" height="28.5" rx="5" fill="#112a6a" stroke="#ffffff" stroke-width="3.4" />
<rect x="817.8" y="543.0" width="8.0" height="37.5" rx="0" fill="#112a6a" />
<rect x="794.2" y="550.7" width="55.1" height="22.1" rx="2" fill="#112a6a" />
<rect x="796.0" y="552.5" width="17.0" height="18.5" rx="1" fill="#e0ba54" />
<rect x="830.5" y="552.5" width="17.0" height="18.5" rx="1" fill="#e0ba54" />
<rect x="812.5" y="554.0" width="18.5" height="15.5" rx="0" fill="#d3a41e" />
<rect x="806.6" y="555.1" width="6.4" height="13.3" rx="1.5" fill="#ffffff" />
<rect x="830.5" y="555.1" width="6.4" height="13.3" rx="1.5" fill="#ffffff" />
<rect x="817.8" y="574.3" width="8.0" height="36.2" rx="0" fill="#112a6a" />
<rect x="794.2" y="582.0" width="55.1" height="20.8" rx="2" fill="#112a6a" />
<rect x="796.0" y="583.8" width="17.0" height="17.2" rx="1" fill="#e0ba54" />
<rect x="830.5" y="583.8" width="17.0" height="17.2" rx="1" fill="#e0ba54" />
<rect x="812.5" y="585.2" width="18.5" height="14.4" rx="0" fill="#d3a41e" />
<rect x="806.6" y="586.2" width="6.4" height="12.4" rx="1.5" fill="#ffffff" />
<rect x="830.5" y="586.2" width="6.4" height="12.4" rx="1.5" fill="#ffffff" />
<rect x="353.6" y="596.7" width="136.1" height="100.9" rx="0" fill="#ffffff" />
<rect x="330.2" y="624.0" width="28.9" height="46.2" rx="0" fill="#ffffff" />
<rect x="330.2" y="624.0" width="14.8" height="46.2" rx="0" fill="#e0ba54" />
<rect x="480.3" y="624.0" width="28.9" height="46.2" rx="0" fill="#ffffff" />
<rect x="494.4" y="624.0" width="14.8" height="46.2" rx="0" fill="#e0ba54" />
<rect x="359.1" y="602.2" width="121.2" height="90.7" rx="0" fill="#fdfdfc" />
<rect x="384.6" y="602.2" width="70.3" height="3.5" rx="0" fill="#bdbdb8" />
<rect x="384.6" y="689.4" width="70.3" height="3.5" rx="0" fill="#bdbdb8" />
<rect x="359.1" y="634.9" width="2.0" height="25.4" rx="0" fill="#c8c8c8" />
<rect x="478.3" y="634.9" width="2.0" height="25.4" rx="0" fill="#c8c8c8" />
<path d="M384.6,603.2 L360.1,603.2 L360.1,634.9 L363.1,634.9" fill="none" stroke="#1e1e1e" stroke-width="2" />
<path d="M384.6,603.2 L384.6,606.2" fill="none" stroke="#1e1e1e" stroke-width="2" />
<path d="M454.8,603.2 L479.3,603.2 L479.3,634.9 L476.3,634.9" fill="none" stroke="#1e1e1e" stroke-width="2" />
<path d="M454.8,603.2 L454.8,606.2" fill="none" stroke="#1e1e1e" stroke-width="2" />
<path d="M384.6,691.9 L360.1,691.9 L360.1,660.2 L363.1,660.2" fill="none" stroke="#1e1e1e" stroke-width="2" />
<path d="M384.6,691.9 L384.6,688.9" fill="none" stroke="#1e1e1e" stroke-width="2" />
<path d="M454.8,691.9 L479.3,691.9 L479.3,660.2 L476.3,660.2" fill="none" stroke="#1e1e1e" stroke-width="2" />
<path d="M454.8,691.9 L454.8,688.9" fill="none" stroke="#1e1e1e" stroke-width="2" />
<circle cx="420.1" cy="647.5" r="31.3" fill="#222" />
<circle cx="420.1" cy="647.5" r="29.5" fill="#2a2a2a" />
<path d="M549.8,590.8 L524.8,590.8 L524.8,601.8" fill="none" stroke="#ffffff" stroke-width="4.2" />
<path d="M597.9,590.8 L622.9,590.8 L622.9,601.8" fill="none" stroke="#ffffff" stroke-width="4.2" />
<path d="M549.8,673.4 L524.8,673.4 L524.8,662.4" fill="none" stroke="#ffffff" stroke-width="4.2" />
<path d="M597.9,673.4 L622.9,673.4 L622.9,662.4" fill="none" stroke="#ffffff" stroke-width="4.2" />
<rect x="526.8" y="593.0" width="95.5" height="78.2" rx="1" fill="#595959" />
<circle cx="536.2" cy="600.7" r="4.6" fill="#ffffff" />
<rect x="656.3" y="613.5" width="15.0" height="24.5" rx="0" fill="#e0ba54" />
<rect x="656.3" y="621" width="15" height="17" fill="url(#silv)"/>
<rect x="656.3" y="677.0" width="15.0" height="24.0" rx="0" fill="#e0ba54" />
<rect x="656.3" y="677" width="15" height="17" fill="url(#silv)"/>
<rect x="676.3" y="613.5" width="15.0" height="24.5" rx="0" fill="#e0ba54" />
<rect x="676.3" y="621" width="15" height="17" fill="url(#silv)"/>
<rect x="676.3" y="677.0" width="15.0" height="24.0" rx="0" fill="#e0ba54" />
<rect x="676.3" y="677" width="15" height="17" fill="url(#silv)"/>
<rect x="696.2" y="613.5" width="15.0" height="24.5" rx="0" fill="#e0ba54" />
<rect x="696.2" y="621" width="15" height="17" fill="url(#silv)"/>
<rect x="696.2" y="677.0" width="15.0" height="24.0" rx="0" fill="#e0ba54" />
<rect x="696.2" y="677" width="15" height="17" fill="url(#silv)"/>
<rect x="653.0" y="638.4" width="62.0" height="37.8" rx="0" fill="#2a2a2a" />
<path d="M649.5,634 L649.5,680 M719.5,634 L719.5,680" fill="none" stroke="#ffffff" stroke-width="5" stroke-linecap="round"/>
<rect x="761.5" y="612.5" width="98.5" height="69.0" rx="0" fill="#112a6a" stroke="#ffffff" stroke-width="3.6" />
<rect x="767.5" y="618.8" width="86.3" height="57.5" rx="0" fill="#2ea81e" />
<circle cx="830.3" cy="646.4" r="6.5" fill="#ffffff" />
<circle cx="830.3" cy="646.4" r="4.0" fill="#4a4a4a" />
<circle cx="846.0" cy="625.2" r="3.0" fill="#111" />
<rect x="731.0" y="618.5" width="29.5" height="58.5" rx="4" fill="#112a6a" stroke="#ffffff" stroke-width="3.2" />
<rect x="726.5" y="643.5" width="38.0" height="8.0" rx="0" fill="#112a6a" />
<rect x="734.2" y="622.0" width="22.6" height="51.1" rx="2" fill="#112a6a" />
<rect x="736.0" y="623.8" width="19.0" height="15.7" rx="1" fill="#e0ba54" />
<rect x="736.0" y="655.6" width="19.0" height="15.7" rx="1" fill="#e0ba54" />
<rect x="737.5" y="639.0" width="16.0" height="17.2" rx="0" fill="#555555" />
<rect x="738.7" y="633.5" width="13.7" height="5.9" rx="1.5" fill="#ffffff" />
<rect x="738.7" y="655.6" width="13.7" height="5.9" rx="1.5" fill="#ffffff" />
<rect x="723.0" y="679.5" width="58.0" height="30.5" rx="3" fill="#112a6a" stroke="#ffffff" stroke-width="3.2" />
<rect x="747.8" y="674.3" width="8.0" height="40.2" rx="0" fill="#112a6a" />
<rect x="725.7" y="682.0" width="52.1" height="24.8" rx="2" fill="#112a6a" />
<rect x="727.5" y="683.8" width="16.0" height="21.2" rx="1" fill="#e0ba54" />
<rect x="760.0" y="683.8" width="16.0" height="21.2" rx="1" fill="#e0ba54" />
<rect x="743.0" y="685.5" width="17.5" height="17.8" rx="0" fill="#555555" />
<rect x="737.4" y="686.8" width="6.1" height="15.3" rx="1.5" fill="#ffffff" />
<rect x="760.0" y="686.8" width="6.1" height="15.3" rx="1.5" fill="#ffffff" />
<rect x="783.0" y="679.5" width="59.0" height="30.5" rx="3" fill="#112a6a" stroke="#ffffff" stroke-width="3.2" />
<rect x="808.5" y="674.3" width="8.0" height="40.2" rx="0" fill="#112a6a" />
<rect x="785.7" y="682.0" width="53.6" height="24.8" rx="2" fill="#112a6a" />
<rect x="787.5" y="683.8" width="16.5" height="21.2" rx="1" fill="#e0ba54" />
<rect x="821.0" y="683.8" width="16.5" height="21.2" rx="1" fill="#e0ba54" />
<rect x="803.5" y="685.5" width="18.0" height="17.8" rx="0" fill="#555555" />
<rect x="797.8" y="686.8" width="6.2" height="15.3" rx="1.5" fill="#ffffff" />
<rect x="821.0" y="686.8" width="6.2" height="15.3" rx="1.5" fill="#ffffff" />
<rect x="870.5" y="647.5" width="61.5" height="29.0" rx="5" fill="#112a6a" stroke="#ffffff" stroke-width="3.4" />
<rect x="897.2" y="643.0" width="8.0" height="37.8" rx="0" fill="#112a6a" />
<rect x="873.2" y="650.7" width="56.1" height="22.4" rx="2" fill="#112a6a" />
<rect x="875.0" y="652.5" width="17.3" height="18.8" rx="1" fill="#e0ba54" />
<rect x="910.2" y="652.5" width="17.3" height="18.8" rx="1" fill="#e0ba54" />
<rect x="891.8" y="654.0" width="18.8" height="15.8" rx="0" fill="#d3a41e" />
<rect x="885.8" y="655.1" width="6.6" height="13.5" rx="1.5" fill="#ffffff" />
<rect x="910.2" y="655.1" width="6.6" height="13.5" rx="1.5" fill="#ffffff" />
<rect x="864.0" y="677.5" width="74.5" height="31.5" rx="5" fill="#112a6a" stroke="#ffffff" stroke-width="3.4" />
<rect x="897.3" y="673.0" width="8.0" height="40.3" rx="0" fill="#112a6a" />
<rect x="867.0" y="680.7" width="68.6" height="24.9" rx="2" fill="#112a6a" />
<rect x="868.8" y="682.5" width="18.2" height="21.3" rx="1" fill="#e0ba54" />
<rect x="915.6" y="682.5" width="18.2" height="21.3" rx="1" fill="#e0ba54" />
<rect x="886.5" y="684.2" width="29.6" height="17.9" rx="0" fill="#d3a41e" />
<rect x="880.5" y="685.5" width="6.5" height="15.3" rx="1.5" fill="#ffffff" />
<rect x="915.6" y="685.5" width="6.5" height="15.3" rx="1.5" fill="#ffffff" />
<path d="M380,702.3 L424.5,702.3 M380,767.8 L424.5,767.8" fill="none" stroke="#ffffff" stroke-width="3.6" stroke-linecap="round"/>
<rect x="358.4" y="708.7" width="25.8" height="13.8" rx="0" fill="#e0ba54" />
<rect x="362.4" y="712.2" width="19.8" height="6.8" fill="url(#sil2)"/>
<rect x="358.4" y="729.0" width="25.8" height="13.7" rx="0" fill="#e0ba54" />
<rect x="362.4" y="732.5" width="19.8" height="6.7" fill="url(#sil2)"/>
<rect x="358.4" y="750.0" width="25.8" height="13.5" rx="0" fill="#e0ba54" />
<rect x="362.4" y="753.5" width="19.8" height="6.5" fill="url(#sil2)"/>
<rect x="418.6" y="708.7" width="25.8" height="13.8" rx="0" fill="#e0ba54" />
<rect x="420.6" y="712.2" width="19.8" height="6.8" fill="url(#sil2r)"/>
<rect x="418.6" y="729.0" width="25.8" height="13.7" rx="0" fill="#e0ba54" />
<rect x="420.6" y="732.5" width="19.8" height="6.7" fill="url(#sil2r)"/>
<rect x="418.6" y="750.0" width="25.8" height="13.5" rx="0" fill="#e0ba54" />
<rect x="420.6" y="753.5" width="19.8" height="6.5" fill="url(#sil2r)"/>
<rect x="382.2" y="703.0" width="38.4" height="65.7" rx="1.5" fill="#3b3b3b" />
<circle cx="413.6" cy="761.7" r="2.5" fill="#666" />
<rect x="322.0" y="704.0" width="33.6" height="61.0" rx="4" fill="#112a6a" stroke="#ffffff" stroke-width="3.2" />
<rect x="317.9" y="729.6" width="41.9" height="8.0" rx="0" fill="#112a6a" />
<rect x="325.6" y="707.2" width="26.5" height="52.9" rx="2" fill="#112a6a" />
<rect x="327.4" y="709.0" width="22.9" height="16.3" rx="1" fill="#e0ba54" />
<rect x="327.4" y="742.0" width="22.9" height="16.3" rx="1" fill="#e0ba54" />
<rect x="329.2" y="724.8" width="19.2" height="17.8" rx="0" fill="#555555" />
<rect x="330.6" y="719.1" width="16.5" height="6.2" rx="1.5" fill="#ffffff" />
<rect x="330.6" y="742.0" width="16.5" height="6.2" rx="1.5" fill="#ffffff" />
<rect x="461.5" y="704.0" width="34.5" height="61.0" rx="4" fill="#112a6a" stroke="#ffffff" stroke-width="3.2" />
<rect x="457.0" y="729.6" width="43.5" height="8.0" rx="0" fill="#112a6a" />
<rect x="464.7" y="707.2" width="28.1" height="52.9" rx="2" fill="#112a6a" />
<rect x="466.5" y="709.0" width="24.5" height="16.3" rx="1" fill="#e0ba54" />
<rect x="466.5" y="742.0" width="24.5" height="16.3" rx="1" fill="#e0ba54" />
<rect x="468.5" y="724.8" width="20.6" height="17.8" rx="0" fill="#555555" />
<rect x="469.9" y="719.1" width="17.6" height="6.2" rx="1.5" fill="#ffffff" />
<rect x="469.9" y="742.0" width="17.6" height="6.2" rx="1.5" fill="#ffffff" />
<rect x="508.3" y="684.7" width="59.9" height="128.0" rx="2" fill="#112a6a" stroke="#ffffff" stroke-width="3.2" />
<rect x="533.4" y="681.9" width="8.0" height="37.3" rx="0" fill="#112a6a" />
<rect x="511.5" y="689.6" width="51.8" height="21.9" rx="2" fill="#112a6a" />
<rect x="513.3" y="691.4" width="15.9" height="18.3" rx="1" fill="#e0ba54" />
<rect x="545.6" y="691.4" width="15.9" height="18.3" rx="1" fill="#e0ba54" />
<rect x="528.7" y="692.9" width="17.4" height="15.4" rx="0" fill="#555555" />
<rect x="523.2" y="694.0" width="6.0" height="13.2" rx="1.5" fill="#ffffff" />
<rect x="545.6" y="694.0" width="6.0" height="13.2" rx="1.5" fill="#ffffff" />
<rect x="533.4" y="713.5" width="8.0" height="37.2" rx="0" fill="#112a6a" />
<rect x="511.5" y="721.2" width="51.8" height="21.8" rx="2" fill="#112a6a" />
<rect x="513.3" y="723.0" width="15.9" height="18.2" rx="1" fill="#e0ba54" />
<rect x="545.6" y="723.0" width="15.9" height="18.2" rx="1" fill="#e0ba54" />
<rect x="528.7" y="724.5" width="17.4" height="15.3" rx="0" fill="#555555" />
<rect x="523.2" y="725.5" width="6.0" height="13.1" rx="1.5" fill="#ffffff" />
<rect x="545.6" y="725.5" width="6.0" height="13.1" rx="1.5" fill="#ffffff" />
<rect x="533.4" y="745.0" width="8.0" height="37.3" rx="0" fill="#112a6a" />
<rect x="511.5" y="752.7" width="51.8" height="21.9" rx="2" fill="#112a6a" />
<rect x="513.3" y="754.5" width="15.9" height="18.3" rx="1" fill="#e0ba54" />
<rect x="545.6" y="754.5" width="15.9" height="18.3" rx="1" fill="#e0ba54" />
<rect x="528.7" y="756.0" width="17.4" height="15.4" rx="0" fill="#555555" />
<rect x="523.2" y="757.1" width="6.0" height="13.2" rx="1.5" fill="#ffffff" />
<rect x="545.6" y="757.1" width="6.0" height="13.2" rx="1.5" fill="#ffffff" />
<rect x="446.0" y="780.0" width="125.0" height="34.0" rx="2" fill="#112a6a" stroke="#ffffff" stroke-width="3.2" />
<rect x="449.0" y="783.5" width="119.5" height="27.0" rx="0" fill="#f6f6f6" />
<rect x="467.0" y="787.0" width="15.0" height="19.0" rx="0" fill="#555" />
<rect x="525.0" y="787.0" width="15.0" height="19.0" rx="0" fill="#555" />
<rect x="572.5" y="684.7" width="65.5" height="74.8" rx="5" fill="#112a6a" stroke="#ffffff" stroke-width="3.4" />
<rect x="568.7" y="718.1" width="40.6" height="8.0" rx="0" fill="#112a6a" />
<rect x="576.4" y="687.9" width="25.2" height="68.4" rx="2" fill="#112a6a" />
<rect x="578.2" y="689.7" width="21.6" height="18.1" rx="1" fill="#e0ba54" />
<rect x="578.2" y="736.4" width="21.6" height="18.1" rx="1" fill="#e0ba54" />
<rect x="579.9" y="707.3" width="18.1" height="29.5" rx="0" fill="#d3a41e" />
<rect x="581.2" y="701.4" width="15.6" height="6.5" rx="1.5" fill="#ffffff" />
<rect x="581.2" y="736.4" width="15.6" height="6.5" rx="1.5" fill="#ffffff" />
<rect x="600.2" y="718.1" width="40.7" height="8.0" rx="0" fill="#112a6a" />
<rect x="607.9" y="694.5" width="25.3" height="55.2" rx="2" fill="#112a6a" />
<rect x="609.7" y="696.3" width="21.7" height="17.0" rx="1" fill="#e0ba54" />
<rect x="609.7" y="730.9" width="21.7" height="17.0" rx="1" fill="#e0ba54" />
<rect x="611.4" y="712.8" width="18.2" height="18.5" rx="0" fill="#555555" />
<rect x="612.7" y="706.9" width="15.6" height="6.5" rx="1.5" fill="#ffffff" />
<rect x="612.7" y="730.9" width="15.6" height="6.5" rx="1.5" fill="#ffffff" />
<rect x="593.5" y="778.5" width="59.0" height="57.0" rx="0" fill="#112a6a" stroke="#ffffff" stroke-width="5" />
<rect x="601.4" y="786.2" width="44.9" height="43.2" rx="0" fill="#fdfdf8" stroke="#c8b878" stroke-width="1.2"/>
<rect x="690.5" y="738.5" width="66.0" height="94.0" rx="4" fill="#112a6a" stroke="#ffffff" stroke-width="3.2" />
<rect x="687.3" y="764.7" width="39.1" height="8.0" rx="0" fill="#112a6a" />
<rect x="695.0" y="742.8" width="23.7" height="51.8" rx="2" fill="#112a6a" />
<rect x="696.8" y="744.6" width="20.1" height="15.9" rx="1" fill="#e0ba54" />
<rect x="696.8" y="776.9" width="20.1" height="15.9" rx="1" fill="#e0ba54" />
<rect x="698.4" y="760.0" width="16.9" height="17.4" rx="0" fill="#555555" />
<rect x="699.6" y="754.5" width="14.5" height="6.0" rx="1.5" fill="#ffffff" />
<rect x="699.6" y="776.9" width="14.5" height="6.0" rx="1.5" fill="#ffffff" />
<rect x="720.0" y="764.7" width="40.5" height="8.0" rx="0" fill="#112a6a" />
<rect x="727.7" y="742.8" width="25.1" height="51.8" rx="2" fill="#112a6a" />
<rect x="729.5" y="744.6" width="21.5" height="15.9" rx="1" fill="#e0ba54" />
<rect x="729.5" y="776.9" width="21.5" height="15.9" rx="1" fill="#e0ba54" />
<rect x="731.2" y="760.0" width="18.1" height="17.4" rx="0" fill="#d3a41e" />
<rect x="732.5" y="754.5" width="15.5" height="6.0" rx="1.5" fill="#ffffff" />
<rect x="732.5" y="776.9" width="15.5" height="6.0" rx="1.5" fill="#ffffff" />
<rect x="718.0" y="796.5" width="8.0" height="39.0" rx="0" fill="#112a6a" />
<rect x="696.1" y="804.2" width="51.7" height="23.6" rx="2" fill="#112a6a" />
<rect x="697.9" y="806.0" width="15.9" height="20.0" rx="1" fill="#e0ba54" />
<rect x="730.1" y="806.0" width="15.9" height="20.0" rx="1" fill="#e0ba54" />
<rect x="713.3" y="807.6" width="17.4" height="16.8" rx="0" fill="#555555" />
<rect x="707.8" y="808.8" width="6.0" height="14.4" rx="1.5" fill="#ffffff" />
<rect x="730.1" y="808.8" width="6.0" height="14.4" rx="1.5" fill="#ffffff" />
<path d="M796,715 L852,715 M796,806 L852,806 M795,745 L795,778" fill="none" stroke="#ffffff" stroke-width="3" />
<rect x="765.9" y="721.4" width="37.5" height="21.1" rx="0" fill="#e0ba54" />
<rect x="780.4" y="724.9" width="21.0" height="14.1" fill="url(#sil2)"/>
<rect x="765.9" y="781.3" width="37.5" height="21.1" rx="0" fill="#e0ba54" />
<rect x="780.4" y="784.8" width="21.0" height="14.1" fill="url(#sil2)"/>
<rect x="845.2" y="721.4" width="37.5" height="21.1" rx="0" fill="#e0ba54" />
<rect x="847.2" y="724.9" width="21.0" height="14.1" fill="url(#sil2r)"/>
<rect x="845.2" y="751.3" width="37.5" height="21.2" rx="0" fill="#e0ba54" />
<rect x="847.2" y="754.8" width="21.0" height="14.2" fill="url(#sil2r)"/>
<rect x="845.2" y="781.3" width="37.5" height="21.1" rx="0" fill="#e0ba54" />
<rect x="847.2" y="784.8" width="21.0" height="14.1" fill="url(#sil2r)"/>
<rect x="801.4" y="719.6" width="45.8" height="82.8" rx="2" fill="#111" />
<rect x="803.2" y="721.4" width="42.2" height="79.2" rx="1" fill="#4d4d4d" />
<circle cx="834.7" cy="790.9" r="4.0" fill="#8a8a8a" />
<rect x="890.5" y="714.0" width="32.0" height="62.0" rx="5" fill="#112a6a" stroke="#ffffff" stroke-width="3.4" />
<rect x="887.0" y="741.2" width="40.1" height="8.0" rx="0" fill="#112a6a" />
<rect x="894.7" y="717.8" width="24.7" height="54.7" rx="2" fill="#112a6a" />
<rect x="896.5" y="719.6" width="21.1" height="16.9" rx="1" fill="#e0ba54" />
<rect x="896.5" y="753.8" width="21.1" height="16.9" rx="1" fill="#e0ba54" />
<rect x="898.2" y="736.0" width="17.7" height="18.4" rx="0" fill="#d3a41e" />
<rect x="899.5" y="730.1" width="15.2" height="6.4" rx="1.5" fill="#ffffff" />
<rect x="899.5" y="753.8" width="15.2" height="6.4" rx="1.5" fill="#ffffff" />
<circle cx="814.5" cy="522.0" r="7.5" fill="#2a60bc" />
<circle cx="830.6" cy="540.0" r="7.5" fill="#2a60bc" />
<circle cx="411.7" cy="405.3" r="7.5" fill="#2a60bc" />
<circle cx="414.7" cy="431.0" r="7.5" fill="#2a60bc" />
<circle cx="496.7" cy="432.2" r="7.5" fill="#2a60bc" />
<circle cx="521.0" cy="429.7" r="7.5" fill="#2a60bc" />
<circle cx="433.0" cy="499.5" r="7.5" fill="#2a60bc" />
<circle cx="475.9" cy="498.3" r="7.5" fill="#2a60bc" />
<circle cx="515.0" cy="488.5" r="7.5" fill="#2a60bc" />
<circle cx="408.6" cy="520.3" r="7.5" fill="#2a60bc" />
<circle cx="419.6" cy="581.5" r="7.5" fill="#2a60bc" />
<circle cx="502.8" cy="581.5" r="7.5" fill="#2a60bc" />
<circle cx="557.1" cy="581.1" r="7.5" fill="#2a60bc" />
<circle cx="627.0" cy="577.6" r="7.5" fill="#2a60bc" />
<circle cx="513.1" cy="621.2" r="7.5" fill="#2a60bc" />
<circle cx="513.8" cy="645.1" r="7.5" fill="#2a60bc" />
<circle cx="646.0" cy="613.5" r="7.5" fill="#2a60bc" />
<circle cx="613.7" cy="682.4" r="7.5" fill="#2a60bc" />
<circle cx="639.7" cy="680.3" r="7.5" fill="#2a60bc" />
<circle cx="581.6" cy="489.0" r="7.5" fill="#2a60bc" />
<circle cx="420.4" cy="580.4" r="7.5" fill="#2a60bc" />
<circle cx="556.5" cy="580.4" r="7.5" fill="#2a60bc" />
<circle cx="627.0" cy="577.9" r="7.5" fill="#2a60bc" />
<circle cx="512.7" cy="621.0" r="7.5" fill="#2a60bc" />
<circle cx="514.3" cy="646.0" r="7.5" fill="#2a60bc" />
<circle cx="645.8" cy="613.3" r="7.5" fill="#2a60bc" />
<circle cx="557.3" cy="580.6" r="7.5" fill="#2a60bc" />
<circle cx="627.4" cy="578.3" r="7.5" fill="#2a60bc" />
<circle cx="646.7" cy="613.3" r="7.5" fill="#2a60bc" />
<circle cx="513.3" cy="644.8" r="7.5" fill="#2a60bc" />
<circle cx="633.3" cy="761.7" r="7.5" fill="#2a60bc" />
<circle cx="668.3" cy="734.0" r="7.5" fill="#2a60bc" />
<circle cx="846.7" cy="696.7" r="7.5" fill="#2a60bc" />
<circle cx="903.3" cy="803.3" r="7.5" fill="#2a60bc" />
<circle cx="394.7" cy="546.0" r="7.5" fill="#2a60bc" />
<circle cx="305.0" cy="290.0" r="8.5" fill="#2a60bc" />
<circle cx="939.0" cy="301.9" r="8.5" fill="#2a60bc" />
<circle cx="939.0" cy="332.7" r="8.5" fill="#2a60bc" />
<circle cx="945.0" cy="361.8" r="8.5" fill="#2a60bc" />
<circle cx="939.3" cy="740.0" r="8.5" fill="#2a60bc" />
<circle cx="939.3" cy="765.0" r="8.5" fill="#2a60bc" />
<circle cx="758.4" cy="566.8" r="3.6" fill="#3c3c3c" />
<circle cx="427.7" cy="226.4" r="3.6" fill="#3c3c3c" />
<circle cx="470.0" cy="313.4" r="3.6" fill="#3c3c3c" />
<circle cx="433.0" cy="356.0" r="3.6" fill="#3c3c3c" />
<circle cx="413.0" cy="404.2" r="3.6" fill="#3c3c3c" />
<circle cx="417.2" cy="430.6" r="3.6" fill="#3c3c3c" />
<circle cx="498.2" cy="432.4" r="3.6" fill="#3c3c3c" />
<circle cx="433.7" cy="499.3" r="3.6" fill="#3c3c3c" />
<circle cx="409.4" cy="519.7" r="3.6" fill="#3c3c3c" />
<circle cx="691.2" cy="298.3" r="3.6" fill="#3c3c3c" />
<circle cx="724.5" cy="300.0" r="3.6" fill="#3c3c3c" />
<circle cx="800.8" cy="249.7" r="3.6" fill="#3c3c3c" />
<circle cx="860.8" cy="264.0" r="3.6" fill="#3c3c3c" />
<circle cx="794.0" cy="324.0" r="3.6" fill="#3c3c3c" />
<circle cx="810.0" cy="359.2" r="3.6" fill="#3c3c3c" />
<circle cx="786.8" cy="368.5" r="3.6" fill="#3c3c3c" />
<circle cx="845.0" cy="379.5" r="3.6" fill="#3c3c3c" />
<circle cx="646.7" cy="407.9" r="3.6" fill="#3c3c3c" />
<circle cx="814.5" cy="522.0" r="3.6" fill="#3c3c3c" />
<circle cx="830.6" cy="540.0" r="3.6" fill="#3c3c3c" />
<circle cx="520.5" cy="429.5" r="3.6" fill="#3c3c3c" />
<circle cx="515.8" cy="489.6" r="3.6" fill="#3c3c3c" />
<circle cx="476.7" cy="497.4" r="3.6" fill="#3c3c3c" />
<circle cx="585.3" cy="548.4" r="3.6" fill="#3c3c3c" />
<circle cx="501.8" cy="580.4" r="3.6" fill="#3c3c3c" />
<circle cx="668.6" cy="572.5" r="3.6" fill="#3c3c3c" />
<circle cx="540.3" cy="679.0" r="3.6" fill="#3c3c3c" />
<circle cx="612.9" cy="682.0" r="3.6" fill="#3c3c3c" />
<circle cx="639.5" cy="680.6" r="3.6" fill="#3c3c3c" />
<circle cx="721.0" cy="627.3" r="3.6" fill="#3c3c3c" />
<circle cx="744.4" cy="679.0" r="3.6" fill="#3c3c3c" />
<circle cx="646.4" cy="407.6" r="3.6" fill="#3c3c3c" />
<circle cx="513.3" cy="621.7" r="3.6" fill="#3c3c3c" />
<circle cx="539.3" cy="678.3" r="3.6" fill="#3c3c3c" />
<circle cx="720.0" cy="626.7" r="3.6" fill="#3c3c3c" />
<circle cx="745.0" cy="676.7" r="3.6" fill="#3c3c3c" />
<circle cx="523.3" cy="716.7" r="3.6" fill="#3c3c3c" />
<circle cx="566.7" cy="723.3" r="3.6" fill="#3c3c3c" />
<circle cx="506.7" cy="751.7" r="3.6" fill="#3c3c3c" />
<circle cx="587.3" cy="764.0" r="3.6" fill="#3c3c3c" />
<circle cx="684.3" cy="759.3" r="3.6" fill="#3c3c3c" />
<circle cx="745.0" cy="725.0" r="3.6" fill="#3c3c3c" />
<circle cx="760.7" cy="760.0" r="3.6" fill="#3c3c3c" />
<circle cx="786.0" cy="760.0" r="3.6" fill="#3c3c3c" />
<circle cx="863.3" cy="637.3" r="3.6" fill="#3c3c3c" />
<circle cx="786.0" cy="761.7" r="3.6" fill="#3c3c3c" />
<circle cx="420.7" cy="581.3" r="3.6" fill="#3c3c3c" />
<circle cx="435.6" cy="694.7" r="3.6" fill="#3c3c3c" />
<circle cx="458.0" cy="723.7" r="3.6" fill="#3c3c3c" />
<circle cx="453.5" cy="752.3" r="3.6" fill="#3c3c3c" />
<circle cx="506.2" cy="752.3" r="3.6" fill="#3c3c3c" />
<circle cx="757.0" cy="398.0" r="3.6" fill="#3c3c3c" />
<circle cx="814.5" cy="522.0" r="3.6" fill="#3c3c3c" />
<circle cx="830.6" cy="540.0" r="3.6" fill="#3c3c3c" />
<circle cx="411.7" cy="405.3" r="3.6" fill="#3c3c3c" />
<circle cx="414.7" cy="431.0" r="3.6" fill="#3c3c3c" />
<circle cx="496.7" cy="432.2" r="3.6" fill="#3c3c3c" />
<circle cx="521.0" cy="429.7" r="3.6" fill="#3c3c3c" />
<circle cx="433.0" cy="499.5" r="3.6" fill="#3c3c3c" />
<circle cx="475.9" cy="498.3" r="3.6" fill="#3c3c3c" />
<circle cx="515.0" cy="488.5" r="3.6" fill="#3c3c3c" />
<circle cx="408.6" cy="520.3" r="3.6" fill="#3c3c3c" />
<circle cx="419.6" cy="581.5" r="3.6" fill="#3c3c3c" />
<circle cx="502.8" cy="581.5" r="3.6" fill="#3c3c3c" />
<circle cx="557.1" cy="581.1" r="3.6" fill="#3c3c3c" />
<circle cx="627.0" cy="577.6" r="3.6" fill="#3c3c3c" />
<circle cx="513.1" cy="621.2" r="3.6" fill="#3c3c3c" />
<circle cx="513.8" cy="645.1" r="3.6" fill="#3c3c3c" />
<circle cx="646.0" cy="613.5" r="3.6" fill="#3c3c3c" />
<circle cx="613.7" cy="682.4" r="3.6" fill="#3c3c3c" />
<circle cx="639.7" cy="680.3" r="3.6" fill="#3c3c3c" />
<circle cx="581.6" cy="489.0" r="3.6" fill="#3c3c3c" />
<circle cx="420.4" cy="580.4" r="3.6" fill="#3c3c3c" />
<circle cx="556.5" cy="580.4" r="3.6" fill="#3c3c3c" />
<circle cx="627.0" cy="577.9" r="3.6" fill="#3c3c3c" />
<circle cx="512.7" cy="621.0" r="3.6" fill="#3c3c3c" />
<circle cx="514.3" cy="646.0" r="3.6" fill="#3c3c3c" />
<circle cx="645.8" cy="613.3" r="3.6" fill="#3c3c3c" />
<circle cx="557.3" cy="580.6" r="3.6" fill="#3c3c3c" />
<circle cx="627.4" cy="578.3" r="3.6" fill="#3c3c3c" />
<circle cx="646.7" cy="613.3" r="3.6" fill="#3c3c3c" />
<circle cx="513.3" cy="644.8" r="3.6" fill="#3c3c3c" />
<circle cx="633.3" cy="761.7" r="3.6" fill="#3c3c3c" />
<circle cx="668.3" cy="734.0" r="3.6" fill="#3c3c3c" />
<circle cx="846.7" cy="696.7" r="3.6" fill="#3c3c3c" />
<circle cx="903.3" cy="803.3" r="3.6" fill="#3c3c3c" />
<circle cx="394.7" cy="546.0" r="3.6" fill="#3c3c3c" />
<circle cx="314.2" cy="222.3" r="4.0" fill="#ffffff" />
<circle cx="300.5" cy="431.9" r="4.5" fill="#ffffff" />
<circle cx="296.2" cy="517.5" r="4.0" fill="#ffffff" />
<circle cx="944.7" cy="439.7" r="4.0" fill="#ffffff" />
<circle cx="516.3" cy="400.0" r="9.0" fill="#ffffff" />
<circle cx="433.0" cy="773.5" r="5.2" fill="#ffffff" />
<circle cx="520.0" cy="608.5" r="4.5" fill="#ffffff" />
<circle cx="644.0" cy="693.0" r="6.3" fill="#ffffff" />
<circle cx="654.0" cy="770.0" r="5.5" fill="#ffffff" />
<circle cx="704.0" cy="839.3" r="4.5" fill="#ffffff" />
<circle cx="950.0" cy="583.0" r="3.8" fill="#ffffff" />
<circle cx="305.0" cy="290.0" r="4.0" fill="#ffffff" />
<circle cx="939.0" cy="301.9" r="4.0" fill="#ffffff" />
<circle cx="939.0" cy="332.7" r="4.0" fill="#ffffff" />
<circle cx="945.0" cy="361.8" r="4.2" fill="#ffffff" />
<circle cx="939.3" cy="740.0" r="4.0" fill="#ffffff" />
<circle cx="939.3" cy="765.0" r="4.0" fill="#ffffff" />
<circle cx="344.5" cy="792.5" r="4.2" fill="#ffffff" />
<path d="M344.5,788.3 A4.2,4.2 0 0 1 344.5,796.7 Z" fill="#3c3c3c"/>
<circle cx="796.0" cy="836.0" r="4.2" fill="#ffffff" />
<path d="M796,831.8 A4.2,4.2 0 0 1 796,840.2 Z" fill="#3c3c3c"/>
<circle cx="646.5" cy="489.5" r="4.2" fill="#ffffff" />
<path d="M646.5,485.3 A4.2,4.2 0 0 1 646.5,493.7 Z" fill="#3c3c3c"/>
<rect x="237.4" y="211.3" width="56.4" height="56.4" rx="0" fill="#e0ba54" />
<circle cx="265.6" cy="239.5" r="17.2" fill="#2f2f2f" />
<rect x="259.8" y="229.2" width="11.6" height="20.6" rx="1.5" fill="url(#slot)"/>
<circle cx="265.6" cy="319.3" r="28.2" fill="#e0ba54" />
<circle cx="265.6" cy="319.3" r="17.2" fill="#2f2f2f" />
<rect x="259.8" y="309.0" width="11.6" height="20.6" rx="1.5" fill="url(#slot)"/>
<circle cx="265.6" cy="399.1" r="28.2" fill="#e0ba54" />
<circle cx="265.6" cy="399.1" r="17.2" fill="#2f2f2f" />
<rect x="259.8" y="388.8" width="11.6" height="20.6" rx="1.5" fill="url(#slot)"/>
<circle cx="265.6" cy="478.9" r="28.2" fill="#e0ba54" />
<circle cx="265.6" cy="478.9" r="17.2" fill="#2f2f2f" />
<rect x="259.8" y="468.6" width="11.6" height="20.6" rx="1.5" fill="url(#slot)"/>
<circle cx="265.6" cy="558.7" r="28.2" fill="#e0ba54" />
<circle cx="265.6" cy="558.7" r="17.2" fill="#2f2f2f" />
<rect x="259.8" y="548.4" width="11.6" height="20.6" rx="1.5" fill="url(#slot)"/>
<rect x="237.4" y="610.3" width="56.4" height="56.4" rx="0" fill="#e0ba54" />
<circle cx="265.6" cy="638.5" r="17.2" fill="#2f2f2f" />
<rect x="259.8" y="628.2" width="11.6" height="20.6" rx="1.5" fill="url(#slot)"/>
<circle cx="265.6" cy="718.3" r="28.2" fill="#e0ba54" />
<circle cx="265.6" cy="718.3" r="17.2" fill="#2f2f2f" />
<rect x="259.8" y="708.0" width="11.6" height="20.6" rx="1.5" fill="url(#slot)"/>
<circle cx="265.6" cy="798.1" r="28.2" fill="#e0ba54" />
<circle cx="265.6" cy="798.1" r="17.2" fill="#2f2f2f" />
<rect x="259.8" y="787.8" width="11.6" height="20.6" rx="1.5" fill="url(#slot)"/>
<rect x="953.0" y="211.3" width="56.4" height="56.4" rx="0" fill="#e0ba54" />
<circle cx="981.2" cy="239.5" r="17.2" fill="#2f2f2f" />
<rect x="975.4" y="229.2" width="11.6" height="20.6" rx="1.5" fill="url(#slot)"/>
<circle cx="981.2" cy="319.3" r="28.2" fill="#e0ba54" />
<circle cx="981.2" cy="319.3" r="17.2" fill="#2f2f2f" />
<rect x="975.4" y="309.0" width="11.6" height="20.6" rx="1.5" fill="url(#slot)"/>
<circle cx="981.2" cy="399.1" r="28.2" fill="#e0ba54" />
<circle cx="981.2" cy="399.1" r="17.2" fill="#2f2f2f" />
<rect x="975.4" y="388.8" width="11.6" height="20.6" rx="1.5" fill="url(#slot)"/>
<circle cx="981.2" cy="478.9" r="28.2" fill="#e0ba54" />
<circle cx="981.2" cy="478.9" r="17.2" fill="#2f2f2f" />
<rect x="975.4" y="468.6" width="11.6" height="20.6" rx="1.5" fill="url(#slot)"/>
<circle cx="981.2" cy="558.7" r="28.2" fill="#e0ba54" />
<circle cx="981.2" cy="558.7" r="17.2" fill="#2f2f2f" />
<rect x="975.4" y="548.4" width="11.6" height="20.6" rx="1.5" fill="url(#slot)"/>
<rect x="953.0" y="610.3" width="56.4" height="56.4" rx="0" fill="#e0ba54" />
<circle cx="981.2" cy="638.5" r="17.2" fill="#2f2f2f" />
<rect x="975.4" y="628.2" width="11.6" height="20.6" rx="1.5" fill="url(#slot)"/>
<circle cx="981.2" cy="718.3" r="28.2" fill="#e0ba54" />
<circle cx="981.2" cy="718.3" r="17.2" fill="#2f2f2f" />
<rect x="975.4" y="708.0" width="11.6" height="20.6" rx="1.5" fill="url(#slot)"/>
<circle cx="981.2" cy="798.1" r="28.2" fill="#e0ba54" />
<circle cx="981.2" cy="798.1" r="17.2" fill="#2f2f2f" />
<rect x="975.4" y="787.8" width="11.6" height="20.6" rx="1.5" fill="url(#slot)"/>
<circle cx="265.5" cy="877.7" r="28.2" fill="#e0ba54" />
<circle cx="265.5" cy="877.7" r="17.2" fill="#2f2f2f" />
<rect x="256.0" y="868.2" width="19.0" height="19.0" rx="0" fill="#222" />
<rect x="257.2" y="869.4" width="16.6" height="16.6" rx="0" fill="#f2ee2c" />
<circle cx="345.0" cy="877.7" r="28.2" fill="#e0ba54" />
<circle cx="345.0" cy="877.7" r="17.2" fill="#2f2f2f" />
<rect x="335.5" y="868.2" width="19.0" height="19.0" rx="0" fill="#222" />
<rect x="336.7" y="869.4" width="16.6" height="16.6" rx="0" fill="#f2ee2c" />
<circle cx="424.5" cy="877.7" r="28.2" fill="#e0ba54" />
<circle cx="424.5" cy="877.7" r="17.2" fill="#2f2f2f" />
<rect x="415.0" y="868.2" width="19.0" height="19.0" rx="0" fill="#222" />
<rect x="416.2" y="869.4" width="16.6" height="16.6" rx="0" fill="#f2ee2c" />
<circle cx="504.0" cy="877.7" r="28.2" fill="#e0ba54" />
<circle cx="504.0" cy="877.7" r="17.2" fill="#2f2f2f" />
<rect x="494.5" y="868.2" width="19.0" height="19.0" rx="0" fill="#222" />
<rect x="495.7" y="869.4" width="16.6" height="16.6" rx="0" fill="#f2ee2c" />
<circle cx="583.5" cy="877.7" r="28.2" fill="#e0ba54" />
<circle cx="583.5" cy="877.7" r="17.2" fill="#2f2f2f" />
<rect x="574.0" y="868.2" width="19.0" height="19.0" rx="0" fill="#222" />
<rect x="575.2" y="869.4" width="16.6" height="16.6" rx="0" fill="#f2ee2c" />
<circle cx="663.0" cy="877.7" r="28.2" fill="#e0ba54" />
<circle cx="663.0" cy="877.7" r="17.2" fill="#2f2f2f" />
<rect x="653.5" y="868.2" width="19.0" height="19.0" rx="0" fill="#222" />
<rect x="654.7" y="869.4" width="16.6" height="16.6" rx="0" fill="#f2ee2c" />
<circle cx="742.5" cy="877.7" r="28.2" fill="#e0ba54" />
<circle cx="742.5" cy="877.7" r="17.2" fill="#2f2f2f" />
<rect x="733.0" y="868.2" width="19.0" height="19.0" rx="0" fill="#222" />
<rect x="734.2" y="869.4" width="16.6" height="16.6" rx="0" fill="#f2ee2c" />
<circle cx="822.0" cy="877.7" r="28.2" fill="#e0ba54" />
<circle cx="822.0" cy="877.7" r="17.2" fill="#2f2f2f" />
<rect x="812.5" y="868.2" width="19.0" height="19.0" rx="0" fill="#222" />
<rect x="813.7" y="869.4" width="16.6" height="16.6" rx="0" fill="#f2ee2c" />
<circle cx="901.5" cy="877.7" r="28.2" fill="#e0ba54" />
<circle cx="901.5" cy="877.7" r="17.2" fill="#2f2f2f" />
<rect x="892.0" y="868.2" width="19.0" height="19.0" rx="0" fill="#222" />
<rect x="893.2" y="869.4" width="16.6" height="16.6" rx="0" fill="#f2ee2c" />
<rect x="954.5" y="850.7" width="53.0" height="48.3" rx="0" fill="#e0ba54" />
<circle cx="981.0" cy="877.7" r="17.2" fill="#2f2f2f" />
<rect x="971.5" y="868.2" width="19.0" height="19.0" rx="0" fill="#222" />
<rect x="972.7" y="869.4" width="16.6" height="16.6" rx="0" fill="#f2ee2c" />
<path d="M901,486 L925,517.5 L912.5,517.5 L912.5,597.5 L890,597.5 L890,517.5 L877.5,517.5 Z" fill="#ffffff" stroke="none" stroke-width="0" />
<path d="M331,830.5 L311,844.5" fill="none" stroke="#ffffff" stroke-width="4.5" />
<path d="M302.7,851 L309,839.5 L315.5,848.5 Z" fill="#ffffff" stroke="#ffffff" stroke-width="1.5" />
<path d="M916,829 L935,842.5" fill="none" stroke="#ffffff" stroke-width="4.5" />
<path d="M943,850.5 L931.5,847 L938.5,837.5 Z" fill="#ffffff" stroke="#ffffff" stroke-width="1.5" />
</g>
<g class="tx"><text x="0" y="0" transform="translate(369.9,229.4) rotate(0)" font-size="9.5" fill="#bdbdbd" text-anchor="middle">ZI</text><text x="0" y="0" transform="translate(369.9,273.6) rotate(0)" font-size="9.5" fill="#bdbdbd" text-anchor="middle" textLength="34" lengthAdjust="spacingAndGlyphs">SOD-323</text><text x="0" y="0" transform="translate(369.9,318.7) rotate(0)" font-size="9.5" fill="#bdbdbd" text-anchor="middle" textLength="34" lengthAdjust="spacingAndGlyphs">SOD-323</text><text x="0" y="0" transform="translate(373.9,359.0) rotate(180)" font-size="9.5" fill="#bdbdbd" text-anchor="middle" textLength="34" lengthAdjust="spacingAndGlyphs">SOD-323</text><text x="0" y="0" transform="translate(574.3,359.1) rotate(-90)" font-size="10.5" fill="#808080" text-anchor="middle" textLength="46" lengthAdjust="spacingAndGlyphs">SOT-23-5</text><text x="684" y="667" font-size="24" fill="#9a9a9a" text-anchor="middle" textLength="26" lengthAdjust="spacingAndGlyphs">68</text><text x="0" y="0" transform="translate(827.8,761.0) rotate(-90)" font-size="10.5" fill="#808080" text-anchor="middle" textLength="46" lengthAdjust="spacingAndGlyphs">SOT-23-5</text></g>
<g class="tx">
<text x="0" y="0" transform="translate(40.58,173.80) scale(0.8303,1)" font-size="48.26" fill="#d5191c" stroke="#fff" stroke-width="0.8">S3</text>
<path d="M104.70,173.20 L117.30,141.00" stroke="#d5191c" stroke-width="3.54" fill="none"/>
<text x="0" y="0" transform="translate(132.34,173.80) scale(0.8590,1)" font-size="48.26" fill="#d5191c" stroke="#fff" stroke-width="0.8">C5</text>
<text x="0" y="0" transform="translate(1050.10,173.80) scale(0.8384,1)" font-size="48.26" fill="#d5191c" stroke="#fff" stroke-width="0.8">S3</text>
<path d="M1113.90,173.20 L1127.00,141.00" stroke="#d5191c" stroke-width="3.52" fill="none"/>
<text x="0" y="0" transform="translate(1141.86,173.80) scale(0.8629,1)" font-size="48.26" fill="#d5191c" stroke="#fff" stroke-width="0.8">C5</text>
<text x="0" y="0" transform="translate(65.68,250.45) scale(0.8997,1)" font-size="35.61" fill="#111" stroke="#fff" stroke-width="0.5">VBAT</text>
<text x="0" y="0" transform="translate(66.72,330.40) scale(0.9313,1)" font-size="35.61" fill="#111" stroke="#fff" stroke-width="0.5">VIN</text>
<text x="0" y="0" transform="translate(66.72,410.35) scale(0.8390,1)" font-size="35.61" fill="#111" stroke="#fff" stroke-width="0.5">VBUS</text>
<text x="0" y="0" transform="translate(65.68,490.30) scale(0.8975,1)" font-size="35.61" fill="#111" stroke="#fff" stroke-width="0.5">VOP</text>
<text x="0" y="0" transform="translate(65.68,570.25) scale(0.9533,1)" font-size="35.61" fill="#111" stroke="#fff" stroke-width="0.5">VON</text>
<text x="0" y="0" transform="translate(65.90,650.20) scale(0.9226,1)" font-size="35.61" fill="#111" stroke="#fff" stroke-width="0.5">3V3</text>
<text x="0" y="0" transform="translate(65.10,730.15) scale(0.9300,1)" font-size="35.61" fill="#111" stroke="#fff" stroke-width="0.5">GND</text>
<text x="0" y="0" transform="translate(66.72,890.05) scale(0.9269,1)" font-size="35.61" fill="#111" stroke="#fff" stroke-width="0.5">VIN</text>
<text x="0" y="0" transform="translate(1059.82,250.45) scale(0.8656,1)" font-size="35.61" fill="#111" stroke="#fff" stroke-width="0.5">RXD0</text>
<text x="0" y="0" transform="translate(1059.44,330.40) scale(0.9006,1)" font-size="35.61" fill="#111" stroke="#fff" stroke-width="0.5">TXD0</text>
<text x="0" y="0" transform="translate(1059.88,410.35) scale(0.9234,1)" font-size="35.61" fill="#111" stroke="#fff" stroke-width="0.5">GND</text>
<text x="0" y="0" transform="translate(1059.88,890.05) scale(0.9135,1)" font-size="35.61" fill="#111" stroke="#fff" stroke-width="0.5">GND</text>
<text x="0" y="0" transform="translate(64.76,810.10) scale(0.9614,1)" font-size="35.61" fill="#111" stroke="#fff" stroke-width="0.5">IO0</text>
<path d="M130.40,810.05 L139.80,785.75" stroke="#111" stroke-width="2.42" fill="none"/>
<text x="0" y="0" transform="translate(150.02,810.10) scale(0.9310,1)" font-size="35.61" fill="#111" stroke="#fff" stroke-width="0.5">IO28</text>
<text x="0" y="0" transform="translate(1059.04,490.30) scale(0.9361,1)" font-size="35.61" fill="#111" stroke="#fff" stroke-width="0.5">IO20</text>
<path d="M1142.20,490.25 L1152.00,465.95" stroke="#111" stroke-width="2.41" fill="none"/>
<text x="0" y="0" transform="translate(1161.54,490.30) scale(0.9390,1)" font-size="35.61" fill="#111" stroke="#fff" stroke-width="0.5">IO14</text>
<text x="0" y="0" transform="translate(1059.04,570.25) scale(0.9361,1)" font-size="35.61" fill="#111" stroke="#fff" stroke-width="0.5">IO19</text>
<path d="M1142.20,570.20 L1152.00,545.90" stroke="#111" stroke-width="2.41" fill="none"/>
<text x="0" y="0" transform="translate(1162.02,570.25) scale(0.9328,1)" font-size="35.61" fill="#111" stroke="#fff" stroke-width="0.5">IO13</text>
<text x="0" y="0" transform="translate(1059.04,650.20) scale(0.9607,1)" font-size="35.61" fill="#111" stroke="#fff" stroke-width="0.5">IO7</text>
<path d="M1123.90,650.15 L1133.90,625.85" stroke="#111" stroke-width="2.40" fill="none"/>
<text x="0" y="0" transform="translate(1144.06,650.20) scale(0.9345,1)" font-size="35.61" fill="#111" stroke="#fff" stroke-width="0.5">IO1</text>
<text x="0" y="0" transform="translate(1059.04,730.15) scale(0.9520,1)" font-size="35.61" fill="#111" stroke="#fff" stroke-width="0.5">IO8</text>
<path d="M1123.90,730.10 L1133.90,705.80" stroke="#111" stroke-width="2.40" fill="none"/>
<text x="0" y="0" transform="translate(1144.06,730.15) scale(0.9421,1)" font-size="35.61" fill="#111" stroke="#fff" stroke-width="0.5">IO10</text>
<text x="0" y="0" transform="translate(1059.04,810.10) scale(0.9361,1)" font-size="35.61" fill="#111" stroke="#fff" stroke-width="0.5">IO42</text>
<path d="M1142.20,810.05 L1152.00,785.75" stroke="#111" stroke-width="2.41" fill="none"/>
<text x="0" y="0" transform="translate(1161.54,810.10) scale(0.9390,1)" font-size="35.61" fill="#111" stroke="#fff" stroke-width="0.5">IO24</text>
<text x="0" y="0" transform="translate(242.56,974.75) scale(0.9158,1)" font-size="43.75" fill="#d5191c" stroke="#fff" stroke-width="0.7">S3</text>
<text x="0" y="0" transform="translate(308.54,973.25) scale(0.9707,1)" font-size="34.45" fill="#111" stroke="#fff" stroke-width="0.5">IO45</text>
<text x="0" y="0" transform="translate(387.80,973.25) scale(0.9811,1)" font-size="34.45" fill="#111" stroke="#fff" stroke-width="0.5">IO48</text>
<text x="0" y="0" transform="translate(467.28,973.25) scale(0.9782,1)" font-size="34.45" fill="#111" stroke="#fff" stroke-width="0.5">IO47</text>
<text x="0" y="0" transform="translate(546.78,973.25) scale(0.9779,1)" font-size="34.45" fill="#111" stroke="#fff" stroke-width="0.5">IO21</text>
<text x="0" y="0" transform="translate(627.30,973.25) scale(0.9602,1)" font-size="34.45" fill="#111" stroke="#fff" stroke-width="0.5">IO14</text>
<text x="0" y="0" transform="translate(706.78,973.25) scale(0.9715,1)" font-size="34.45" fill="#111" stroke="#fff" stroke-width="0.5">IO13</text>
<text x="0" y="0" transform="translate(794.78,973.25) scale(0.9845,1)" font-size="34.45" fill="#111" stroke="#fff" stroke-width="0.5">IO9</text>
<text x="0" y="0" transform="translate(874.28,973.25) scale(0.9794,1)" font-size="34.45" fill="#111" stroke="#fff" stroke-width="0.5">IO3</text>
<text x="0" y="0" transform="translate(340.20,837.00) scale(0.9604,1)" font-size="26.89" fill="#fff" stroke="#fff" stroke-width="1.0">VIN</text>
<text x="0" y="0" transform="translate(853.00,837.10) scale(0.9365,1)" font-size="26.60" fill="#fff" stroke="#fff" stroke-width="1.0">GND</text>
<text x="0" y="0" transform="translate(876.70,636.50) scale(0.8359,1)" font-size="45.78" fill="#fff" stroke="#fff" stroke-width="1.0">UP</text>
</g>
</svg>
</body></html>
